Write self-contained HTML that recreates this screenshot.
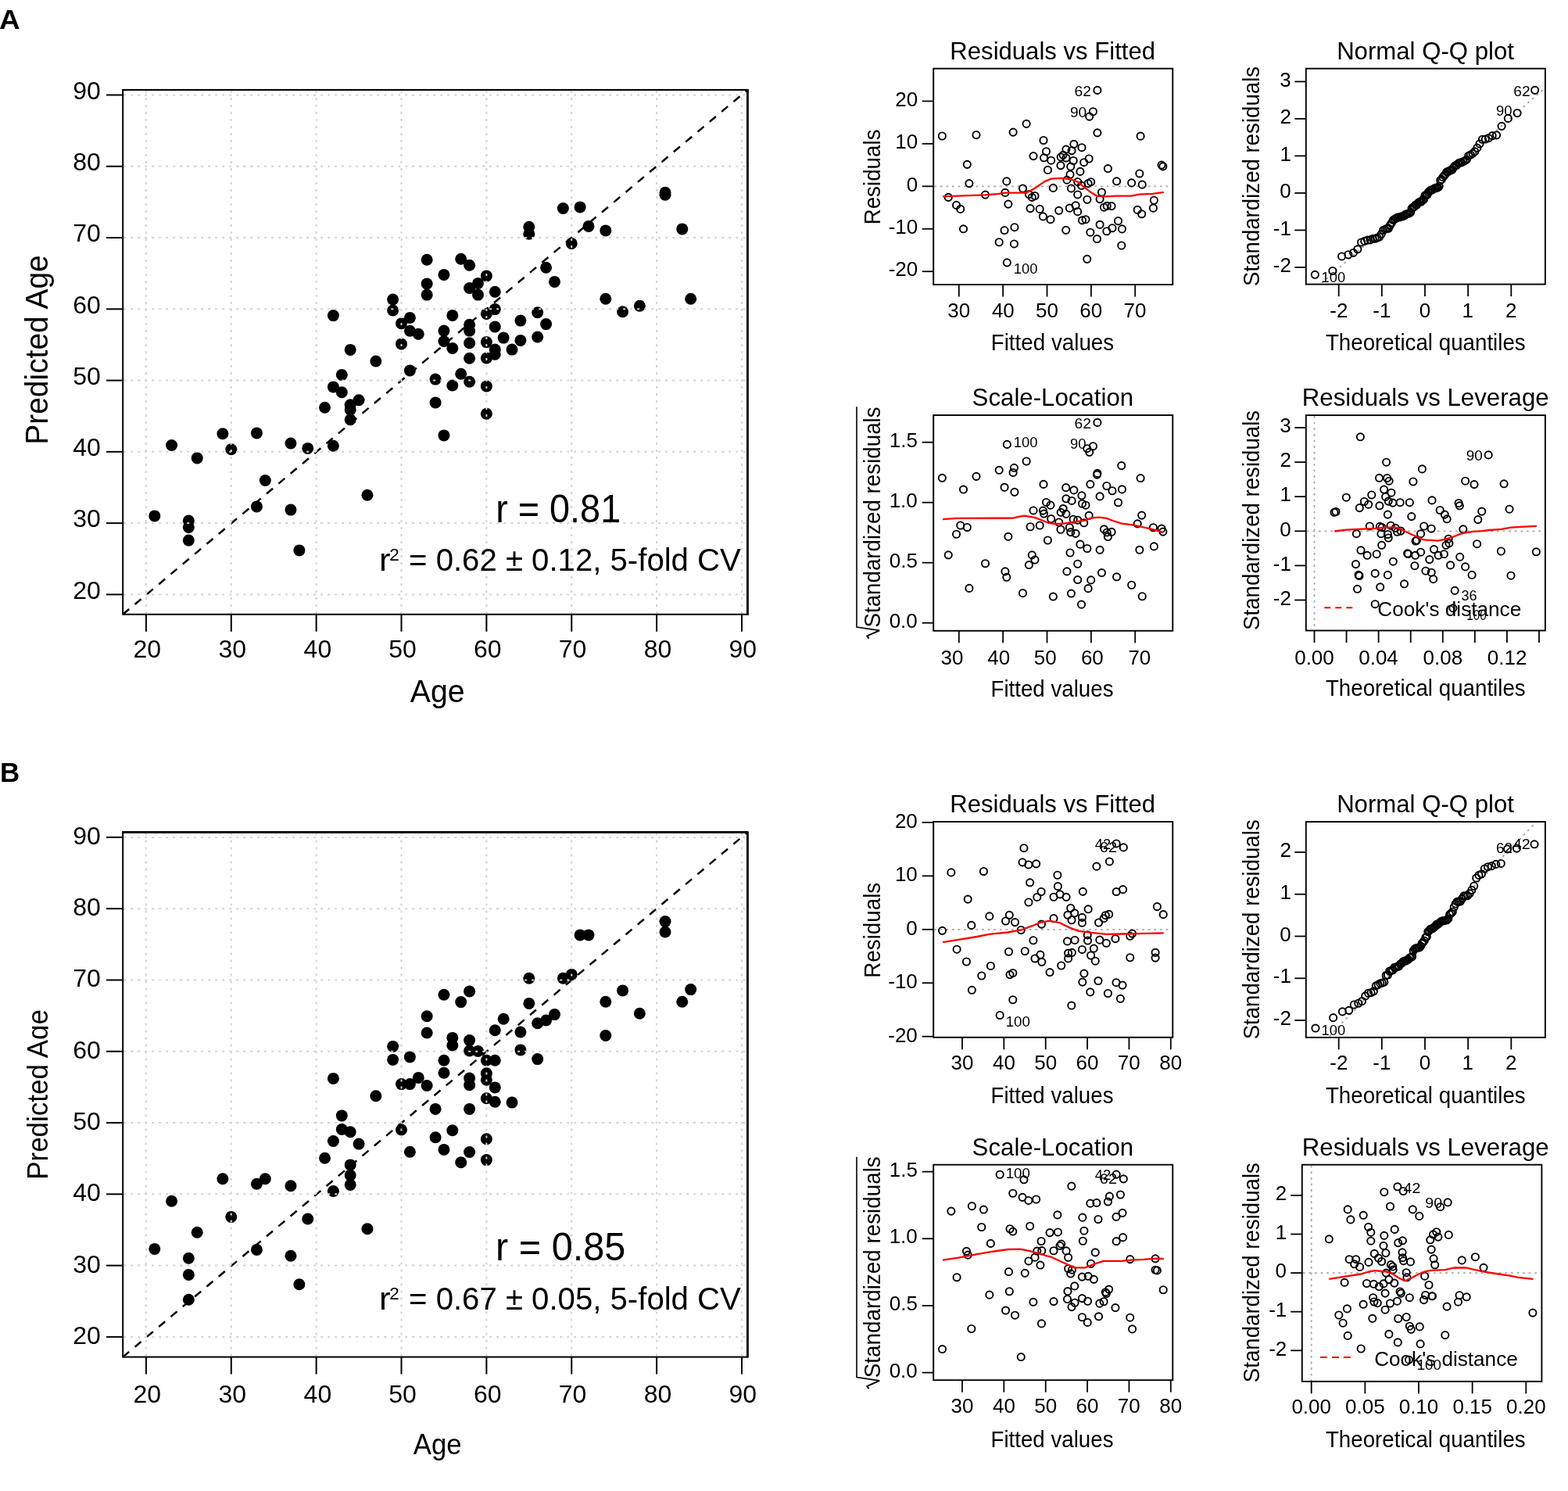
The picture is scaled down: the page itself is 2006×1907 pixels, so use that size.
<!DOCTYPE html>
<html><head><meta charset="utf-8"><title>Figure</title>
<style>html,body{margin:0;padding:0;background:#fff;}svg{display:block;}</style>
</head><body>
<svg xmlns="http://www.w3.org/2000/svg" width="2006" height="1907" viewBox="0 0 2006 1907" font-family="'Liberation Sans', Arial, Helvetica, sans-serif">
<rect x="0" y="0" width="2006" height="1907" fill="#fff"/>
<circle cx="197.79" cy="659.9" r="7.5" fill="#000"/>
<circle cx="219.56" cy="569.5" r="7.5" fill="#000"/>
<circle cx="241.34" cy="666" r="7.5" fill="#000"/>
<circle cx="241.34" cy="674.4" r="7.5" fill="#000"/>
<circle cx="241.34" cy="691.1" r="7.5" fill="#000"/>
<circle cx="252.22" cy="585.9" r="7.5" fill="#000"/>
<circle cx="284.88" cy="554.8" r="7.5" fill="#000"/>
<circle cx="295.77" cy="574.8" r="7.5" fill="#000"/>
<circle cx="328.43" cy="553.9" r="7.5" fill="#000"/>
<circle cx="328.43" cy="647.9" r="7.5" fill="#000"/>
<circle cx="339.32" cy="614.5" r="7.5" fill="#000"/>
<circle cx="371.98" cy="567" r="7.5" fill="#000"/>
<circle cx="371.98" cy="652.1" r="7.5" fill="#000"/>
<circle cx="382.87" cy="703.9" r="7.5" fill="#000"/>
<circle cx="393.75" cy="573.4" r="7.5" fill="#000"/>
<circle cx="415.53" cy="521.3" r="7.5" fill="#000"/>
<circle cx="426.41" cy="403.6" r="7.5" fill="#000"/>
<circle cx="426.41" cy="494.9" r="7.5" fill="#000"/>
<circle cx="426.41" cy="570.3" r="7.5" fill="#000"/>
<circle cx="437.3" cy="479.4" r="7.5" fill="#000"/>
<circle cx="437.3" cy="501.7" r="7.5" fill="#000"/>
<circle cx="448.19" cy="447.4" r="7.5" fill="#000"/>
<circle cx="448.19" cy="517.7" r="7.5" fill="#000"/>
<circle cx="448.19" cy="524.1" r="7.5" fill="#000"/>
<circle cx="448.19" cy="536.8" r="7.5" fill="#000"/>
<circle cx="459.08" cy="511.8" r="7.5" fill="#000"/>
<circle cx="469.96" cy="633.2" r="7.5" fill="#000"/>
<circle cx="480.85" cy="462" r="7.5" fill="#000"/>
<circle cx="502.62" cy="383" r="7.5" fill="#000"/>
<circle cx="502.62" cy="397" r="7.5" fill="#000"/>
<circle cx="513.51" cy="413.7" r="7.5" fill="#000"/>
<circle cx="513.51" cy="439.9" r="7.5" fill="#000"/>
<circle cx="524.4" cy="406.4" r="7.5" fill="#000"/>
<circle cx="524.4" cy="423.2" r="7.5" fill="#000"/>
<circle cx="524.4" cy="473.9" r="7.5" fill="#000"/>
<circle cx="535.28" cy="427.3" r="7.5" fill="#000"/>
<circle cx="546.17" cy="332.3" r="7.5" fill="#000"/>
<circle cx="546.17" cy="362.9" r="7.5" fill="#000"/>
<circle cx="546.17" cy="377.1" r="7.5" fill="#000"/>
<circle cx="557.06" cy="485.1" r="7.5" fill="#000"/>
<circle cx="557.06" cy="514.9" r="7.5" fill="#000"/>
<circle cx="567.95" cy="351.4" r="7.5" fill="#000"/>
<circle cx="567.95" cy="423.1" r="7.5" fill="#000"/>
<circle cx="567.95" cy="436.5" r="7.5" fill="#000"/>
<circle cx="567.95" cy="556.9" r="7.5" fill="#000"/>
<circle cx="578.83" cy="403.4" r="7.5" fill="#000"/>
<circle cx="578.83" cy="445.4" r="7.5" fill="#000"/>
<circle cx="578.83" cy="493" r="7.5" fill="#000"/>
<circle cx="589.72" cy="331.2" r="7.5" fill="#000"/>
<circle cx="589.72" cy="478.2" r="7.5" fill="#000"/>
<circle cx="600.61" cy="339.2" r="7.5" fill="#000"/>
<circle cx="600.61" cy="368.5" r="7.5" fill="#000"/>
<circle cx="600.61" cy="415.3" r="7.5" fill="#000"/>
<circle cx="600.61" cy="423.1" r="7.5" fill="#000"/>
<circle cx="600.61" cy="438.8" r="7.5" fill="#000"/>
<circle cx="600.61" cy="458.3" r="7.5" fill="#000"/>
<circle cx="600.61" cy="488.2" r="7.5" fill="#000"/>
<circle cx="611.49" cy="362.4" r="7.5" fill="#000"/>
<circle cx="611.49" cy="377.1" r="7.5" fill="#000"/>
<circle cx="622.38" cy="352.9" r="7.5" fill="#000"/>
<circle cx="622.38" cy="401.4" r="7.5" fill="#000"/>
<circle cx="622.38" cy="437.6" r="7.5" fill="#000"/>
<circle cx="622.38" cy="458" r="7.5" fill="#000"/>
<circle cx="622.38" cy="493.9" r="7.5" fill="#000"/>
<circle cx="622.38" cy="529.3" r="7.5" fill="#000"/>
<circle cx="633.27" cy="373.3" r="7.5" fill="#000"/>
<circle cx="633.27" cy="395.6" r="7.5" fill="#000"/>
<circle cx="633.27" cy="417.9" r="7.5" fill="#000"/>
<circle cx="633.27" cy="447.1" r="7.5" fill="#000"/>
<circle cx="633.27" cy="453.2" r="7.5" fill="#000"/>
<circle cx="644.15" cy="432.1" r="7.5" fill="#000"/>
<circle cx="655.04" cy="447.1" r="7.5" fill="#000"/>
<circle cx="665.93" cy="410.1" r="7.5" fill="#000"/>
<circle cx="665.93" cy="435.4" r="7.5" fill="#000"/>
<circle cx="676.82" cy="290.3" r="7.5" fill="#000"/>
<circle cx="676.82" cy="299.2" r="7.5" fill="#000"/>
<circle cx="687.7" cy="399.7" r="7.5" fill="#000"/>
<circle cx="687.7" cy="431" r="7.5" fill="#000"/>
<circle cx="698.59" cy="342.3" r="7.5" fill="#000"/>
<circle cx="698.59" cy="414.6" r="7.5" fill="#000"/>
<circle cx="709.48" cy="360.4" r="7.5" fill="#000"/>
<circle cx="720.36" cy="266.5" r="7.5" fill="#000"/>
<circle cx="731.25" cy="311.4" r="7.5" fill="#000"/>
<circle cx="742.14" cy="264.9" r="7.5" fill="#000"/>
<circle cx="753.02" cy="289.4" r="7.5" fill="#000"/>
<circle cx="774.8" cy="294.9" r="7.5" fill="#000"/>
<circle cx="774.8" cy="382.3" r="7.5" fill="#000"/>
<circle cx="796.57" cy="398.8" r="7.5" fill="#000"/>
<circle cx="818.35" cy="391.2" r="7.5" fill="#000"/>
<circle cx="851.01" cy="246.3" r="7.5" fill="#000"/>
<circle cx="851.01" cy="249.3" r="7.5" fill="#000"/>
<circle cx="872.78" cy="292.9" r="7.5" fill="#000"/>
<circle cx="883.67" cy="382.3" r="7.5" fill="#000"/>
<line x1="157.2" y1="785.8" x2="955.3" y2="115.9" stroke="#000" stroke-width="2.5" stroke-dasharray="10.5,9.5" stroke-linecap="butt"/>
<line x1="186.9" y1="115.9" x2="186.9" y2="784.8" stroke="#d3d3d3" stroke-width="2" stroke-dasharray="3,6" stroke-linecap="butt"/>
<line x1="158.2" y1="760.39" x2="955.3" y2="760.39" stroke="#d3d3d3" stroke-width="2" stroke-dasharray="3,6" stroke-linecap="butt"/>
<line x1="295.77" y1="115.9" x2="295.77" y2="784.8" stroke="#d3d3d3" stroke-width="2" stroke-dasharray="3,6" stroke-linecap="butt"/>
<line x1="158.2" y1="669.12" x2="955.3" y2="669.12" stroke="#d3d3d3" stroke-width="2" stroke-dasharray="3,6" stroke-linecap="butt"/>
<line x1="404.64" y1="115.9" x2="404.64" y2="784.8" stroke="#d3d3d3" stroke-width="2" stroke-dasharray="3,6" stroke-linecap="butt"/>
<line x1="158.2" y1="577.85" x2="955.3" y2="577.85" stroke="#d3d3d3" stroke-width="2" stroke-dasharray="3,6" stroke-linecap="butt"/>
<line x1="513.51" y1="115.9" x2="513.51" y2="784.8" stroke="#d3d3d3" stroke-width="2" stroke-dasharray="3,6" stroke-linecap="butt"/>
<line x1="158.2" y1="486.58" x2="955.3" y2="486.58" stroke="#d3d3d3" stroke-width="2" stroke-dasharray="3,6" stroke-linecap="butt"/>
<line x1="622.38" y1="115.9" x2="622.38" y2="784.8" stroke="#d3d3d3" stroke-width="2" stroke-dasharray="3,6" stroke-linecap="butt"/>
<line x1="158.2" y1="395.31" x2="955.3" y2="395.31" stroke="#d3d3d3" stroke-width="2" stroke-dasharray="3,6" stroke-linecap="butt"/>
<line x1="731.25" y1="115.9" x2="731.25" y2="784.8" stroke="#d3d3d3" stroke-width="2" stroke-dasharray="3,6" stroke-linecap="butt"/>
<line x1="158.2" y1="304.04" x2="955.3" y2="304.04" stroke="#d3d3d3" stroke-width="2" stroke-dasharray="3,6" stroke-linecap="butt"/>
<line x1="840.12" y1="115.9" x2="840.12" y2="784.8" stroke="#d3d3d3" stroke-width="2" stroke-dasharray="3,6" stroke-linecap="butt"/>
<line x1="158.2" y1="212.77" x2="955.3" y2="212.77" stroke="#d3d3d3" stroke-width="2" stroke-dasharray="3,6" stroke-linecap="butt"/>
<line x1="948.99" y1="115.9" x2="948.99" y2="784.8" stroke="#d3d3d3" stroke-width="2" stroke-dasharray="3,6" stroke-linecap="butt"/>
<line x1="158.2" y1="121.5" x2="955.3" y2="121.5" stroke="#d3d3d3" stroke-width="2" stroke-dasharray="3,6" stroke-linecap="butt"/>
<rect x="157.2" y="114.9" width="799.1" height="670.9" fill="none" stroke="#000" stroke-width="2"/>
<line x1="156.2" y1="114.9" x2="956.3" y2="114.9" stroke="#000" stroke-width="2" stroke-linecap="butt"/>
<line x1="956.4" y1="113.9" x2="956.4" y2="786.8" stroke="#000" stroke-width="2.8" stroke-linecap="butt"/>
<line x1="136" y1="760.39" x2="157.2" y2="760.39" stroke="#000" stroke-width="2" stroke-linecap="butt"/>
<line x1="186.9" y1="785.8" x2="186.9" y2="807.8" stroke="#000" stroke-width="2" stroke-linecap="butt"/>
<text x="93.16" y="765.59" font-size="32" textLength="35.59" lengthAdjust="spacingAndGlyphs">20</text>
<text x="170.42" y="841" font-size="32" textLength="35.59" lengthAdjust="spacingAndGlyphs">20</text>
<line x1="136" y1="669.12" x2="157.2" y2="669.12" stroke="#000" stroke-width="2" stroke-linecap="butt"/>
<line x1="295.77" y1="785.8" x2="295.77" y2="807.8" stroke="#000" stroke-width="2" stroke-linecap="butt"/>
<text x="93.16" y="674.32" font-size="32" textLength="35.59" lengthAdjust="spacingAndGlyphs">30</text>
<text x="279.49" y="841" font-size="32" textLength="35.59" lengthAdjust="spacingAndGlyphs">30</text>
<line x1="136" y1="577.85" x2="157.2" y2="577.85" stroke="#000" stroke-width="2" stroke-linecap="butt"/>
<line x1="404.64" y1="785.8" x2="404.64" y2="807.8" stroke="#000" stroke-width="2" stroke-linecap="butt"/>
<text x="93.16" y="583.05" font-size="32" textLength="35.59" lengthAdjust="spacingAndGlyphs">40</text>
<text x="388.6" y="841" font-size="32" textLength="35.59" lengthAdjust="spacingAndGlyphs">40</text>
<line x1="136" y1="486.58" x2="157.2" y2="486.58" stroke="#000" stroke-width="2" stroke-linecap="butt"/>
<line x1="513.51" y1="785.8" x2="513.51" y2="807.8" stroke="#000" stroke-width="2" stroke-linecap="butt"/>
<text x="93.16" y="491.78" font-size="32" textLength="35.59" lengthAdjust="spacingAndGlyphs">50</text>
<text x="497.2" y="841" font-size="32" textLength="35.59" lengthAdjust="spacingAndGlyphs">50</text>
<line x1="136" y1="395.31" x2="157.2" y2="395.31" stroke="#000" stroke-width="2" stroke-linecap="butt"/>
<line x1="622.38" y1="785.8" x2="622.38" y2="807.8" stroke="#000" stroke-width="2" stroke-linecap="butt"/>
<text x="93.16" y="400.51" font-size="32" textLength="35.59" lengthAdjust="spacingAndGlyphs">60</text>
<text x="605.9" y="841" font-size="32" textLength="35.59" lengthAdjust="spacingAndGlyphs">60</text>
<line x1="136" y1="304.04" x2="157.2" y2="304.04" stroke="#000" stroke-width="2" stroke-linecap="butt"/>
<line x1="731.25" y1="785.8" x2="731.25" y2="807.8" stroke="#000" stroke-width="2" stroke-linecap="butt"/>
<text x="93.16" y="309.24" font-size="32" textLength="35.59" lengthAdjust="spacingAndGlyphs">70</text>
<text x="714.76" y="841" font-size="32" textLength="35.59" lengthAdjust="spacingAndGlyphs">70</text>
<line x1="136" y1="212.77" x2="157.2" y2="212.77" stroke="#000" stroke-width="2" stroke-linecap="butt"/>
<line x1="840.12" y1="785.8" x2="840.12" y2="807.8" stroke="#000" stroke-width="2" stroke-linecap="butt"/>
<text x="93.16" y="217.97" font-size="32" textLength="35.59" lengthAdjust="spacingAndGlyphs">80</text>
<text x="823.75" y="841" font-size="32" textLength="35.59" lengthAdjust="spacingAndGlyphs">80</text>
<line x1="136" y1="121.5" x2="157.2" y2="121.5" stroke="#000" stroke-width="2" stroke-linecap="butt"/>
<line x1="948.99" y1="785.8" x2="948.99" y2="807.8" stroke="#000" stroke-width="2" stroke-linecap="butt"/>
<text x="93.16" y="126.7" font-size="32" textLength="35.59" lengthAdjust="spacingAndGlyphs">90</text>
<text x="932.57" y="841" font-size="32" textLength="35.59" lengthAdjust="spacingAndGlyphs">90</text>
<text x="524.82" y="897.9" font-size="40.5" textLength="69.72" lengthAdjust="spacingAndGlyphs">Age</text>
<text transform="translate(61.1,565.6) rotate(-90)" x="-3.17" y="0" font-size="41" textLength="242.48" lengthAdjust="spacingAndGlyphs">Predicted Age</text>
<text x="-0.92" y="37.1" font-size="34.5" font-weight="bold" textLength="26.7" lengthAdjust="spacingAndGlyphs">A</text>
<text x="634.19" y="667.9" font-size="50.5" textLength="159.99" lengthAdjust="spacingAndGlyphs">r = 0.81</text>
<text x="484.98" y="729.5" font-size="40.5" textLength="14.65" lengthAdjust="spacingAndGlyphs">r</text>
<text x="498.36" y="716.5" font-size="22.6" textLength="12.57" lengthAdjust="spacingAndGlyphs">2</text>
<text x="523.04" y="729.5" font-size="41" textLength="424.84" lengthAdjust="spacingAndGlyphs">= 0.62 ± 0.12, 5-fold CV</text>
<line x1="1195.2" y1="238.3" x2="1499.3" y2="238.3" stroke="#a8a8a8" stroke-width="1.8" stroke-dasharray="2.8,4.8" stroke-linecap="butt"/>
<circle cx="1232.51" cy="292.81" r="4.6" fill="none" stroke="#000" stroke-width="1.9"/>
<circle cx="1288.33" cy="335.85" r="4.6" fill="none" stroke="#000" stroke-width="1.9"/>
<circle cx="1228.75" cy="267.39" r="4.6" fill="none" stroke="#000" stroke-width="1.9"/>
<circle cx="1223.56" cy="262.38" r="4.6" fill="none" stroke="#000" stroke-width="1.9"/>
<circle cx="1213.25" cy="252.41" r="4.6" fill="none" stroke="#000" stroke-width="1.9"/>
<circle cx="1278.2" cy="309.73" r="4.6" fill="none" stroke="#000" stroke-width="1.9"/>
<circle cx="1297.4" cy="311.95" r="4.6" fill="none" stroke="#000" stroke-width="1.9"/>
<circle cx="1285.05" cy="294.57" r="4.6" fill="none" stroke="#000" stroke-width="1.9"/>
<circle cx="1297.96" cy="290.7" r="4.6" fill="none" stroke="#000" stroke-width="1.9"/>
<circle cx="1239.92" cy="234.62" r="4.6" fill="none" stroke="#000" stroke-width="1.9"/>
<circle cx="1260.54" cy="249.11" r="4.6" fill="none" stroke="#000" stroke-width="1.9"/>
<circle cx="1289.87" cy="261.11" r="4.6" fill="none" stroke="#000" stroke-width="1.9"/>
<circle cx="1237.33" cy="210.34" r="4.6" fill="none" stroke="#000" stroke-width="1.9"/>
<circle cx="1205.35" cy="173.99" r="4.6" fill="none" stroke="#000" stroke-width="1.9"/>
<circle cx="1285.92" cy="246.4" r="4.6" fill="none" stroke="#000" stroke-width="1.9"/>
<circle cx="1318.08" cy="266.59" r="4.6" fill="none" stroke="#000" stroke-width="1.9"/>
<circle cx="1390.75" cy="331.36" r="4.6" fill="none" stroke="#000" stroke-width="1.9"/>
<circle cx="1334.38" cy="276.9" r="4.6" fill="none" stroke="#000" stroke-width="1.9"/>
<circle cx="1287.83" cy="231.91" r="4.6" fill="none" stroke="#000" stroke-width="1.9"/>
<circle cx="1343.95" cy="280.7" r="4.6" fill="none" stroke="#000" stroke-width="1.9"/>
<circle cx="1330.18" cy="267.39" r="4.6" fill="none" stroke="#000" stroke-width="1.9"/>
<circle cx="1363.71" cy="294.34" r="4.6" fill="none" stroke="#000" stroke-width="1.9"/>
<circle cx="1320.31" cy="252.4" r="4.6" fill="none" stroke="#000" stroke-width="1.9"/>
<circle cx="1316.36" cy="248.59" r="4.6" fill="none" stroke="#000" stroke-width="1.9"/>
<circle cx="1308.51" cy="241.01" r="4.6" fill="none" stroke="#000" stroke-width="1.9"/>
<circle cx="1323.95" cy="250.48" r="4.6" fill="none" stroke="#000" stroke-width="1.9"/>
<circle cx="1249" cy="172.61" r="4.6" fill="none" stroke="#000" stroke-width="1.9"/>
<circle cx="1354.7" cy="269.3" r="4.6" fill="none" stroke="#000" stroke-width="1.9"/>
<circle cx="1403.47" cy="305.54" r="4.6" fill="none" stroke="#000" stroke-width="1.9"/>
<circle cx="1394.83" cy="297.19" r="4.6" fill="none" stroke="#000" stroke-width="1.9"/>
<circle cx="1384.52" cy="281.78" r="4.6" fill="none" stroke="#000" stroke-width="1.9"/>
<circle cx="1368.34" cy="266.15" r="4.6" fill="none" stroke="#000" stroke-width="1.9"/>
<circle cx="1389.02" cy="280.69" r="4.6" fill="none" stroke="#000" stroke-width="1.9"/>
<circle cx="1378.65" cy="270.67" r="4.6" fill="none" stroke="#000" stroke-width="1.9"/>
<circle cx="1347.35" cy="240.42" r="4.6" fill="none" stroke="#000" stroke-width="1.9"/>
<circle cx="1376.12" cy="262.78" r="4.6" fill="none" stroke="#000" stroke-width="1.9"/>
<circle cx="1434.77" cy="314.01" r="4.6" fill="none" stroke="#000" stroke-width="1.9"/>
<circle cx="1415.88" cy="295.75" r="4.6" fill="none" stroke="#000" stroke-width="1.9"/>
<circle cx="1407.11" cy="287.28" r="4.6" fill="none" stroke="#000" stroke-width="1.9"/>
<circle cx="1340.43" cy="217.4" r="4.6" fill="none" stroke="#000" stroke-width="1.9"/>
<circle cx="1322.04" cy="199.62" r="4.6" fill="none" stroke="#000" stroke-width="1.9"/>
<circle cx="1422.98" cy="291.72" r="4.6" fill="none" stroke="#000" stroke-width="1.9"/>
<circle cx="1378.71" cy="248.95" r="4.6" fill="none" stroke="#000" stroke-width="1.9"/>
<circle cx="1370.44" cy="240.95" r="4.6" fill="none" stroke="#000" stroke-width="1.9"/>
<circle cx="1296.1" cy="169.12" r="4.6" fill="none" stroke="#000" stroke-width="1.9"/>
<circle cx="1390.88" cy="255.25" r="4.6" fill="none" stroke="#000" stroke-width="1.9"/>
<circle cx="1364.94" cy="230.2" r="4.6" fill="none" stroke="#000" stroke-width="1.9"/>
<circle cx="1335.56" cy="201.8" r="4.6" fill="none" stroke="#000" stroke-width="1.9"/>
<circle cx="1435.45" cy="292.88" r="4.6" fill="none" stroke="#000" stroke-width="1.9"/>
<circle cx="1344.69" cy="205.18" r="4.6" fill="none" stroke="#000" stroke-width="1.9"/>
<circle cx="1430.51" cy="282.66" r="4.6" fill="none" stroke="#000" stroke-width="1.9"/>
<circle cx="1412.42" cy="265.18" r="4.6" fill="none" stroke="#000" stroke-width="1.9"/>
<circle cx="1383.53" cy="237.26" r="4.6" fill="none" stroke="#000" stroke-width="1.9"/>
<circle cx="1378.71" cy="232.61" r="4.6" fill="none" stroke="#000" stroke-width="1.9"/>
<circle cx="1369.02" cy="223.24" r="4.6" fill="none" stroke="#000" stroke-width="1.9"/>
<circle cx="1356.98" cy="211.61" r="4.6" fill="none" stroke="#000" stroke-width="1.9"/>
<circle cx="1338.52" cy="193.77" r="4.6" fill="none" stroke="#000" stroke-width="1.9"/>
<circle cx="1416.19" cy="263.38" r="4.6" fill="none" stroke="#000" stroke-width="1.9"/>
<circle cx="1407.11" cy="254.61" r="4.6" fill="none" stroke="#000" stroke-width="1.9"/>
<circle cx="1422.05" cy="263.6" r="4.6" fill="none" stroke="#000" stroke-width="1.9"/>
<circle cx="1392.11" cy="234.67" r="4.6" fill="none" stroke="#000" stroke-width="1.9"/>
<circle cx="1369.76" cy="213.07" r="4.6" fill="none" stroke="#000" stroke-width="1.9"/>
<circle cx="1357.17" cy="200.9" r="4.6" fill="none" stroke="#000" stroke-width="1.9"/>
<circle cx="1335" cy="179.48" r="4.6" fill="none" stroke="#000" stroke-width="1.9"/>
<circle cx="1313.14" cy="158.36" r="4.6" fill="none" stroke="#000" stroke-width="1.9"/>
<circle cx="1409.46" cy="245.99" r="4.6" fill="none" stroke="#000" stroke-width="1.9"/>
<circle cx="1395.69" cy="232.68" r="4.6" fill="none" stroke="#000" stroke-width="1.9"/>
<circle cx="1381.92" cy="219.38" r="4.6" fill="none" stroke="#000" stroke-width="1.9"/>
<circle cx="1363.89" cy="201.96" r="4.6" fill="none" stroke="#000" stroke-width="1.9"/>
<circle cx="1360.13" cy="198.32" r="4.6" fill="none" stroke="#000" stroke-width="1.9"/>
<circle cx="1373.16" cy="205.46" r="4.6" fill="none" stroke="#000" stroke-width="1.9"/>
<circle cx="1363.89" cy="191.07" r="4.6" fill="none" stroke="#000" stroke-width="1.9"/>
<circle cx="1386.74" cy="207.7" r="4.6" fill="none" stroke="#000" stroke-width="1.9"/>
<circle cx="1371.12" cy="192.6" r="4.6" fill="none" stroke="#000" stroke-width="1.9"/>
<circle cx="1460.7" cy="273.72" r="4.6" fill="none" stroke="#000" stroke-width="1.9"/>
<circle cx="1455.21" cy="268.41" r="4.6" fill="none" stroke="#000" stroke-width="1.9"/>
<circle cx="1393.16" cy="203.01" r="4.6" fill="none" stroke="#000" stroke-width="1.9"/>
<circle cx="1373.84" cy="184.34" r="4.6" fill="none" stroke="#000" stroke-width="1.9"/>
<circle cx="1428.6" cy="231.81" r="4.6" fill="none" stroke="#000" stroke-width="1.9"/>
<circle cx="1383.96" cy="188.68" r="4.6" fill="none" stroke="#000" stroke-width="1.9"/>
<circle cx="1417.42" cy="215.57" r="4.6" fill="none" stroke="#000" stroke-width="1.9"/>
<circle cx="1475.4" cy="266.14" r="4.6" fill="none" stroke="#000" stroke-width="1.9"/>
<circle cx="1447.68" cy="233.91" r="4.6" fill="none" stroke="#000" stroke-width="1.9"/>
<circle cx="1476.38" cy="256.21" r="4.6" fill="none" stroke="#000" stroke-width="1.9"/>
<circle cx="1461.26" cy="236.14" r="4.6" fill="none" stroke="#000" stroke-width="1.9"/>
<circle cx="1457.86" cy="221.97" r="4.6" fill="none" stroke="#000" stroke-width="1.9"/>
<circle cx="1403.9" cy="169.83" r="4.6" fill="none" stroke="#000" stroke-width="1.9"/>
<circle cx="1393.72" cy="149.1" r="4.6" fill="none" stroke="#000" stroke-width="1.9"/>
<circle cx="1398.41" cy="142.74" r="4.6" fill="none" stroke="#000" stroke-width="1.9"/>
<circle cx="1487.87" cy="212.85" r="4.6" fill="none" stroke="#000" stroke-width="1.9"/>
<circle cx="1486.02" cy="211.06" r="4.6" fill="none" stroke="#000" stroke-width="1.9"/>
<circle cx="1459.1" cy="174.16" r="4.6" fill="none" stroke="#000" stroke-width="1.9"/>
<circle cx="1403.9" cy="115.38" r="4.6" fill="none" stroke="#000" stroke-width="1.9"/>
<polyline fill="none" points="1206,251.3 1237.4,250.2 1260.2,249.4 1278.3,247.8 1285.3,246.6 1312.8,246.6 1320.7,242.7 1327,238.8 1336.4,232.1 1345,228.6 1356.8,227.8 1368.6,229 1378.8,232.5 1387.4,239.6 1395.3,245.8 1403.1,250.6 1413.3,251.3 1428.3,250.6 1447.1,250.6 1457.3,248.6 1474.6,247.8 1488.8,245.8" stroke="#ff0000" stroke-width="2.3" stroke-linejoin="round"/>
<rect x="1194.2" y="87.7" width="306.1" height="276.3" fill="none" stroke="#000" stroke-width="1.9"/>
<line x1="1179.7" y1="129.4" x2="1194.2" y2="129.4" stroke="#000" stroke-width="1.8" stroke-linecap="butt"/>
<text x="1145.3" y="135.6" font-size="26" textLength="28.92" lengthAdjust="spacingAndGlyphs">20</text>
<line x1="1179.7" y1="183.85" x2="1194.2" y2="183.85" stroke="#000" stroke-width="1.8" stroke-linecap="butt"/>
<text x="1145.3" y="190.05" font-size="26" textLength="28.92" lengthAdjust="spacingAndGlyphs">10</text>
<line x1="1179.7" y1="238.3" x2="1194.2" y2="238.3" stroke="#000" stroke-width="1.8" stroke-linecap="butt"/>
<text x="1159.76" y="244.5" font-size="26" textLength="14.46" lengthAdjust="spacingAndGlyphs">0</text>
<line x1="1179.7" y1="292.75" x2="1194.2" y2="292.75" stroke="#000" stroke-width="1.8" stroke-linecap="butt"/>
<text x="1136.64" y="298.95" font-size="26" textLength="37.58" lengthAdjust="spacingAndGlyphs">-10</text>
<line x1="1179.7" y1="347.2" x2="1194.2" y2="347.2" stroke="#000" stroke-width="1.8" stroke-linecap="butt"/>
<text x="1136.64" y="353.4" font-size="26" textLength="37.58" lengthAdjust="spacingAndGlyphs">-20</text>
<line x1="1226.82" y1="364" x2="1226.82" y2="379.5" stroke="#000" stroke-width="1.8" stroke-linecap="butt"/>
<text x="1212.37" y="405.6" font-size="26" textLength="28.92" lengthAdjust="spacingAndGlyphs">30</text>
<line x1="1283.17" y1="364" x2="1283.17" y2="379.5" stroke="#000" stroke-width="1.8" stroke-linecap="butt"/>
<text x="1268.92" y="405.6" font-size="26" textLength="28.92" lengthAdjust="spacingAndGlyphs">40</text>
<line x1="1339.52" y1="364" x2="1339.52" y2="379.5" stroke="#000" stroke-width="1.8" stroke-linecap="butt"/>
<text x="1325.05" y="405.6" font-size="26" textLength="28.92" lengthAdjust="spacingAndGlyphs">50</text>
<line x1="1395.87" y1="364" x2="1395.87" y2="379.5" stroke="#000" stroke-width="1.8" stroke-linecap="butt"/>
<text x="1381.26" y="405.6" font-size="26" textLength="28.92" lengthAdjust="spacingAndGlyphs">60</text>
<line x1="1452.22" y1="364" x2="1452.22" y2="379.5" stroke="#000" stroke-width="1.8" stroke-linecap="butt"/>
<text x="1437.6" y="405.6" font-size="26" textLength="28.92" lengthAdjust="spacingAndGlyphs">70</text>
<text x="1215.35" y="75.8" font-size="31.5" textLength="262.65" lengthAdjust="spacingAndGlyphs">Residuals vs Fitted</text>
<text x="1267.72" y="447.8" font-size="28.8" textLength="157.48" lengthAdjust="spacingAndGlyphs">Fitted values</text>
<text transform="translate(1125.8,285.1) rotate(-90)" x="-2.28" y="0" font-size="28.8" textLength="121.88" lengthAdjust="spacingAndGlyphs">Residuals</text>
<text x="1374.42" y="123.3" font-size="19" textLength="21.45" lengthAdjust="spacingAndGlyphs">62</text>
<text x="1368.9" y="150.1" font-size="19" textLength="21.35" lengthAdjust="spacingAndGlyphs">90</text>
<text x="1296.8" y="350" font-size="19" textLength="30.72" lengthAdjust="spacingAndGlyphs">100</text>
<clipPath id="qc275"><rect x="1670.8" y="87.7" width="306.10000000000014" height="275.90000000000003"/></clipPath>
<g clip-path="url(#qc275)">
<line x1="1679.61" y1="371.9" x2="1974.66" y2="114.15" stroke="#a0a0a0" stroke-width="1.8" stroke-dasharray="2.8,4.8" stroke-linecap="butt"/>
</g>
<circle cx="1682.33" cy="351.31" r="4.6" fill="none" stroke="#000" stroke-width="1.9"/>
<circle cx="1704.91" cy="346.51" r="4.6" fill="none" stroke="#000" stroke-width="1.9"/>
<circle cx="1716.63" cy="327.93" r="4.6" fill="none" stroke="#000" stroke-width="1.9"/>
<circle cx="1724.9" cy="325.73" r="4.6" fill="none" stroke="#000" stroke-width="1.9"/>
<circle cx="1731.41" cy="323.35" r="4.6" fill="none" stroke="#000" stroke-width="1.9"/>
<circle cx="1736.85" cy="318.87" r="4.6" fill="none" stroke="#000" stroke-width="1.9"/>
<circle cx="1741.57" cy="309.93" r="4.6" fill="none" stroke="#000" stroke-width="1.9"/>
<circle cx="1745.75" cy="308.39" r="4.6" fill="none" stroke="#000" stroke-width="1.9"/>
<circle cx="1749.53" cy="307.13" r="4.6" fill="none" stroke="#000" stroke-width="1.9"/>
<circle cx="1752.99" cy="306.89" r="4.6" fill="none" stroke="#000" stroke-width="1.9"/>
<circle cx="1756.2" cy="305.32" r="4.6" fill="none" stroke="#000" stroke-width="1.9"/>
<circle cx="1759.2" cy="305.24" r="4.6" fill="none" stroke="#000" stroke-width="1.9"/>
<circle cx="1762.02" cy="304.08" r="4.6" fill="none" stroke="#000" stroke-width="1.9"/>
<circle cx="1764.68" cy="302.99" r="4.6" fill="none" stroke="#000" stroke-width="1.9"/>
<circle cx="1767.22" cy="299.33" r="4.6" fill="none" stroke="#000" stroke-width="1.9"/>
<circle cx="1769.65" cy="294.39" r="4.6" fill="none" stroke="#000" stroke-width="1.9"/>
<circle cx="1771.97" cy="293.44" r="4.6" fill="none" stroke="#000" stroke-width="1.9"/>
<circle cx="1774.21" cy="292.28" r="4.6" fill="none" stroke="#000" stroke-width="1.9"/>
<circle cx="1776.37" cy="292.27" r="4.6" fill="none" stroke="#000" stroke-width="1.9"/>
<circle cx="1778.46" cy="288.21" r="4.6" fill="none" stroke="#000" stroke-width="1.9"/>
<circle cx="1780.49" cy="284.82" r="4.6" fill="none" stroke="#000" stroke-width="1.9"/>
<circle cx="1782.47" cy="281.54" r="4.6" fill="none" stroke="#000" stroke-width="1.9"/>
<circle cx="1784.39" cy="280.08" r="4.6" fill="none" stroke="#000" stroke-width="1.9"/>
<circle cx="1786.27" cy="279.13" r="4.6" fill="none" stroke="#000" stroke-width="1.9"/>
<circle cx="1788.1" cy="278.04" r="4.6" fill="none" stroke="#000" stroke-width="1.9"/>
<circle cx="1789.9" cy="278.03" r="4.6" fill="none" stroke="#000" stroke-width="1.9"/>
<circle cx="1791.66" cy="277.18" r="4.6" fill="none" stroke="#000" stroke-width="1.9"/>
<circle cx="1793.39" cy="276.71" r="4.6" fill="none" stroke="#000" stroke-width="1.9"/>
<circle cx="1795.1" cy="276.7" r="4.6" fill="none" stroke="#000" stroke-width="1.9"/>
<circle cx="1796.77" cy="275.68" r="4.6" fill="none" stroke="#000" stroke-width="1.9"/>
<circle cx="1798.43" cy="273.98" r="4.6" fill="none" stroke="#000" stroke-width="1.9"/>
<circle cx="1800.06" cy="273.74" r="4.6" fill="none" stroke="#000" stroke-width="1.9"/>
<circle cx="1801.67" cy="273.1" r="4.6" fill="none" stroke="#000" stroke-width="1.9"/>
<circle cx="1803.26" cy="272.67" r="4.6" fill="none" stroke="#000" stroke-width="1.9"/>
<circle cx="1804.84" cy="271.31" r="4.6" fill="none" stroke="#000" stroke-width="1.9"/>
<circle cx="1806.4" cy="266.07" r="4.6" fill="none" stroke="#000" stroke-width="1.9"/>
<circle cx="1807.95" cy="265.05" r="4.6" fill="none" stroke="#000" stroke-width="1.9"/>
<circle cx="1809.49" cy="264.36" r="4.6" fill="none" stroke="#000" stroke-width="1.9"/>
<circle cx="1811.01" cy="262.01" r="4.6" fill="none" stroke="#000" stroke-width="1.9"/>
<circle cx="1812.53" cy="262" r="4.6" fill="none" stroke="#000" stroke-width="1.9"/>
<circle cx="1814.04" cy="259.94" r="4.6" fill="none" stroke="#000" stroke-width="1.9"/>
<circle cx="1815.55" cy="258.47" r="4.6" fill="none" stroke="#000" stroke-width="1.9"/>
<circle cx="1817.04" cy="258.3" r="4.6" fill="none" stroke="#000" stroke-width="1.9"/>
<circle cx="1818.54" cy="257.91" r="4.6" fill="none" stroke="#000" stroke-width="1.9"/>
<circle cx="1820.03" cy="255.57" r="4.6" fill="none" stroke="#000" stroke-width="1.9"/>
<circle cx="1821.51" cy="255.13" r="4.6" fill="none" stroke="#000" stroke-width="1.9"/>
<circle cx="1823" cy="249.8" r="4.6" fill="none" stroke="#000" stroke-width="1.9"/>
<circle cx="1824.49" cy="249.74" r="4.6" fill="none" stroke="#000" stroke-width="1.9"/>
<circle cx="1825.97" cy="249.17" r="4.6" fill="none" stroke="#000" stroke-width="1.9"/>
<circle cx="1827.46" cy="245.79" r="4.6" fill="none" stroke="#000" stroke-width="1.9"/>
<circle cx="1828.96" cy="244.59" r="4.6" fill="none" stroke="#000" stroke-width="1.9"/>
<circle cx="1830.45" cy="243.01" r="4.6" fill="none" stroke="#000" stroke-width="1.9"/>
<circle cx="1831.96" cy="242.97" r="4.6" fill="none" stroke="#000" stroke-width="1.9"/>
<circle cx="1833.47" cy="242.2" r="4.6" fill="none" stroke="#000" stroke-width="1.9"/>
<circle cx="1834.99" cy="240.89" r="4.6" fill="none" stroke="#000" stroke-width="1.9"/>
<circle cx="1836.51" cy="240.81" r="4.6" fill="none" stroke="#000" stroke-width="1.9"/>
<circle cx="1838.05" cy="240.06" r="4.6" fill="none" stroke="#000" stroke-width="1.9"/>
<circle cx="1839.6" cy="239.95" r="4.6" fill="none" stroke="#000" stroke-width="1.9"/>
<circle cx="1841.16" cy="238.23" r="4.6" fill="none" stroke="#000" stroke-width="1.9"/>
<circle cx="1842.74" cy="230.79" r="4.6" fill="none" stroke="#000" stroke-width="1.9"/>
<circle cx="1844.33" cy="229.42" r="4.6" fill="none" stroke="#000" stroke-width="1.9"/>
<circle cx="1845.94" cy="226.65" r="4.6" fill="none" stroke="#000" stroke-width="1.9"/>
<circle cx="1847.57" cy="224.53" r="4.6" fill="none" stroke="#000" stroke-width="1.9"/>
<circle cx="1849.23" cy="222.57" r="4.6" fill="none" stroke="#000" stroke-width="1.9"/>
<circle cx="1850.9" cy="219.89" r="4.6" fill="none" stroke="#000" stroke-width="1.9"/>
<circle cx="1852.61" cy="219.66" r="4.6" fill="none" stroke="#000" stroke-width="1.9"/>
<circle cx="1854.34" cy="218.33" r="4.6" fill="none" stroke="#000" stroke-width="1.9"/>
<circle cx="1856.1" cy="217.74" r="4.6" fill="none" stroke="#000" stroke-width="1.9"/>
<circle cx="1857.9" cy="216.97" r="4.6" fill="none" stroke="#000" stroke-width="1.9"/>
<circle cx="1859.73" cy="214.14" r="4.6" fill="none" stroke="#000" stroke-width="1.9"/>
<circle cx="1861.61" cy="211.75" r="4.6" fill="none" stroke="#000" stroke-width="1.9"/>
<circle cx="1863.53" cy="211.45" r="4.6" fill="none" stroke="#000" stroke-width="1.9"/>
<circle cx="1865.51" cy="209.13" r="4.6" fill="none" stroke="#000" stroke-width="1.9"/>
<circle cx="1867.54" cy="208" r="4.6" fill="none" stroke="#000" stroke-width="1.9"/>
<circle cx="1869.63" cy="207.83" r="4.6" fill="none" stroke="#000" stroke-width="1.9"/>
<circle cx="1871.79" cy="206.87" r="4.6" fill="none" stroke="#000" stroke-width="1.9"/>
<circle cx="1874.03" cy="205.5" r="4.6" fill="none" stroke="#000" stroke-width="1.9"/>
<circle cx="1876.35" cy="204.11" r="4.6" fill="none" stroke="#000" stroke-width="1.9"/>
<circle cx="1878.78" cy="199.24" r="4.6" fill="none" stroke="#000" stroke-width="1.9"/>
<circle cx="1881.32" cy="197.99" r="4.6" fill="none" stroke="#000" stroke-width="1.9"/>
<circle cx="1883.98" cy="196.34" r="4.6" fill="none" stroke="#000" stroke-width="1.9"/>
<circle cx="1886.8" cy="193.78" r="4.6" fill="none" stroke="#000" stroke-width="1.9"/>
<circle cx="1889.8" cy="189.14" r="4.6" fill="none" stroke="#000" stroke-width="1.9"/>
<circle cx="1893.01" cy="183.94" r="4.6" fill="none" stroke="#000" stroke-width="1.9"/>
<circle cx="1896.47" cy="178.25" r="4.6" fill="none" stroke="#000" stroke-width="1.9"/>
<circle cx="1900.25" cy="178.06" r="4.6" fill="none" stroke="#000" stroke-width="1.9"/>
<circle cx="1904.43" cy="176.59" r="4.6" fill="none" stroke="#000" stroke-width="1.9"/>
<circle cx="1909.15" cy="173.61" r="4.6" fill="none" stroke="#000" stroke-width="1.9"/>
<circle cx="1914.59" cy="172.85" r="4.6" fill="none" stroke="#000" stroke-width="1.9"/>
<circle cx="1921.1" cy="161.34" r="4.6" fill="none" stroke="#000" stroke-width="1.9"/>
<circle cx="1929.37" cy="151.42" r="4.6" fill="none" stroke="#000" stroke-width="1.9"/>
<circle cx="1941.09" cy="144.62" r="4.6" fill="none" stroke="#000" stroke-width="1.9"/>
<circle cx="1963.67" cy="115.33" r="4.6" fill="none" stroke="#000" stroke-width="1.9"/>
<rect x="1670.8" y="87.7" width="306.1" height="275.9" fill="none" stroke="#000" stroke-width="1.9"/>
<line x1="1656.3" y1="104.4" x2="1670.8" y2="104.4" stroke="#000" stroke-width="1.8" stroke-linecap="butt"/>
<text x="1637.28" y="110.6" font-size="26" textLength="14.46" lengthAdjust="spacingAndGlyphs">3</text>
<line x1="1656.3" y1="151.9" x2="1670.8" y2="151.9" stroke="#000" stroke-width="1.8" stroke-linecap="butt"/>
<text x="1637.45" y="158.1" font-size="26" textLength="14.46" lengthAdjust="spacingAndGlyphs">2</text>
<line x1="1656.3" y1="199.4" x2="1670.8" y2="199.4" stroke="#000" stroke-width="1.8" stroke-linecap="butt"/>
<text x="1637.41" y="205.6" font-size="26" textLength="14.46" lengthAdjust="spacingAndGlyphs">1</text>
<line x1="1656.3" y1="246.9" x2="1670.8" y2="246.9" stroke="#000" stroke-width="1.8" stroke-linecap="butt"/>
<text x="1637.16" y="253.1" font-size="26" textLength="14.46" lengthAdjust="spacingAndGlyphs">0</text>
<line x1="1656.3" y1="294.4" x2="1670.8" y2="294.4" stroke="#000" stroke-width="1.8" stroke-linecap="butt"/>
<text x="1628.75" y="300.6" font-size="26" textLength="23.12" lengthAdjust="spacingAndGlyphs">-1</text>
<line x1="1656.3" y1="341.9" x2="1670.8" y2="341.9" stroke="#000" stroke-width="1.8" stroke-linecap="butt"/>
<text x="1628.79" y="348.1" font-size="26" textLength="23.12" lengthAdjust="spacingAndGlyphs">-2</text>
<line x1="1712.7" y1="363.6" x2="1712.7" y2="379.1" stroke="#000" stroke-width="1.8" stroke-linecap="butt"/>
<text x="1701.22" y="405.6" font-size="26" textLength="23.12" lengthAdjust="spacingAndGlyphs">-2</text>
<line x1="1767.85" y1="363.6" x2="1767.85" y2="379.1" stroke="#000" stroke-width="1.8" stroke-linecap="butt"/>
<text x="1756.35" y="405.6" font-size="26" textLength="23.12" lengthAdjust="spacingAndGlyphs">-1</text>
<line x1="1823" y1="363.6" x2="1823" y2="379.1" stroke="#000" stroke-width="1.8" stroke-linecap="butt"/>
<text x="1815.77" y="405.6" font-size="26" textLength="14.46" lengthAdjust="spacingAndGlyphs">0</text>
<line x1="1878.15" y1="363.6" x2="1878.15" y2="379.1" stroke="#000" stroke-width="1.8" stroke-linecap="butt"/>
<text x="1870.56" y="405.6" font-size="26" textLength="14.46" lengthAdjust="spacingAndGlyphs">1</text>
<line x1="1933.3" y1="363.6" x2="1933.3" y2="379.1" stroke="#000" stroke-width="1.8" stroke-linecap="butt"/>
<text x="1926.07" y="405.6" font-size="26" textLength="14.46" lengthAdjust="spacingAndGlyphs">2</text>
<text x="1710.14" y="75.8" font-size="31.5" textLength="226.78" lengthAdjust="spacingAndGlyphs">Normal Q-Q plot</text>
<text x="1695.88" y="448" font-size="28.8" textLength="255.82" lengthAdjust="spacingAndGlyphs">Theoretical quantiles</text>
<text transform="translate(1611,364.7) rotate(-90)" x="-1.25" y="0" font-size="28.6" textLength="281.05" lengthAdjust="spacingAndGlyphs">Standardized residuals</text>
<text x="1936.33" y="123.3" font-size="19" textLength="21.34" lengthAdjust="spacingAndGlyphs">62</text>
<text x="1914.03" y="147.5" font-size="19" textLength="20.59" lengthAdjust="spacingAndGlyphs">90</text>
<text x="1690.6" y="360.7" font-size="19" textLength="30.61" lengthAdjust="spacingAndGlyphs">100</text>
<circle cx="1232.51" cy="626.03" r="4.6" fill="none" stroke="#000" stroke-width="1.9"/>
<circle cx="1288.33" cy="568.38" r="4.6" fill="none" stroke="#000" stroke-width="1.9"/>
<circle cx="1228.75" cy="672.02" r="4.6" fill="none" stroke="#000" stroke-width="1.9"/>
<circle cx="1223.56" cy="683.27" r="4.6" fill="none" stroke="#000" stroke-width="1.9"/>
<circle cx="1213.25" cy="709.86" r="4.6" fill="none" stroke="#000" stroke-width="1.9"/>
<circle cx="1278.2" cy="601.32" r="4.6" fill="none" stroke="#000" stroke-width="1.9"/>
<circle cx="1297.4" cy="598.31" r="4.6" fill="none" stroke="#000" stroke-width="1.9"/>
<circle cx="1285.05" cy="623.29" r="4.6" fill="none" stroke="#000" stroke-width="1.9"/>
<circle cx="1297.96" cy="629.35" r="4.6" fill="none" stroke="#000" stroke-width="1.9"/>
<circle cx="1239.92" cy="752.38" r="4.6" fill="none" stroke="#000" stroke-width="1.9"/>
<circle cx="1260.54" cy="720.71" r="4.6" fill="none" stroke="#000" stroke-width="1.9"/>
<circle cx="1289.87" cy="686.3" r="4.6" fill="none" stroke="#000" stroke-width="1.9"/>
<circle cx="1237.33" cy="674.46" r="4.6" fill="none" stroke="#000" stroke-width="1.9"/>
<circle cx="1205.35" cy="611.31" r="4.6" fill="none" stroke="#000" stroke-width="1.9"/>
<circle cx="1285.92" cy="730.91" r="4.6" fill="none" stroke="#000" stroke-width="1.9"/>
<circle cx="1318.08" cy="673.74" r="4.6" fill="none" stroke="#000" stroke-width="1.9"/>
<circle cx="1390.75" cy="573.68" r="4.6" fill="none" stroke="#000" stroke-width="1.9"/>
<circle cx="1334.38" cy="653.08" r="4.6" fill="none" stroke="#000" stroke-width="1.9"/>
<circle cx="1287.83" cy="738.28" r="4.6" fill="none" stroke="#000" stroke-width="1.9"/>
<circle cx="1343.95" cy="646.17" r="4.6" fill="none" stroke="#000" stroke-width="1.9"/>
<circle cx="1330.18" cy="672" r="4.6" fill="none" stroke="#000" stroke-width="1.9"/>
<circle cx="1363.71" cy="623.64" r="4.6" fill="none" stroke="#000" stroke-width="1.9"/>
<circle cx="1320.31" cy="709.88" r="4.6" fill="none" stroke="#000" stroke-width="1.9"/>
<circle cx="1316.36" cy="722.56" r="4.6" fill="none" stroke="#000" stroke-width="1.9"/>
<circle cx="1308.51" cy="758.65" r="4.6" fill="none" stroke="#000" stroke-width="1.9"/>
<circle cx="1323.95" cy="716.02" r="4.6" fill="none" stroke="#000" stroke-width="1.9"/>
<circle cx="1249" cy="609.33" r="4.6" fill="none" stroke="#000" stroke-width="1.9"/>
<circle cx="1354.7" cy="667.99" r="4.6" fill="none" stroke="#000" stroke-width="1.9"/>
<circle cx="1403.47" cy="607.14" r="4.6" fill="none" stroke="#000" stroke-width="1.9"/>
<circle cx="1394.83" cy="619.3" r="4.6" fill="none" stroke="#000" stroke-width="1.9"/>
<circle cx="1384.52" cy="644.27" r="4.6" fill="none" stroke="#000" stroke-width="1.9"/>
<circle cx="1368.34" cy="674.7" r="4.6" fill="none" stroke="#000" stroke-width="1.9"/>
<circle cx="1389.02" cy="646.19" r="4.6" fill="none" stroke="#000" stroke-width="1.9"/>
<circle cx="1378.65" cy="665.18" r="4.6" fill="none" stroke="#000" stroke-width="1.9"/>
<circle cx="1347.35" cy="763.04" r="4.6" fill="none" stroke="#000" stroke-width="1.9"/>
<circle cx="1376.12" cy="682.33" r="4.6" fill="none" stroke="#000" stroke-width="1.9"/>
<circle cx="1434.77" cy="595.56" r="4.6" fill="none" stroke="#000" stroke-width="1.9"/>
<circle cx="1415.88" cy="621.48" r="4.6" fill="none" stroke="#000" stroke-width="1.9"/>
<circle cx="1407.11" cy="634.91" r="4.6" fill="none" stroke="#000" stroke-width="1.9"/>
<circle cx="1340.43" cy="691.02" r="4.6" fill="none" stroke="#000" stroke-width="1.9"/>
<circle cx="1322.04" cy="652.93" r="4.6" fill="none" stroke="#000" stroke-width="1.9"/>
<circle cx="1422.98" cy="627.73" r="4.6" fill="none" stroke="#000" stroke-width="1.9"/>
<circle cx="1378.71" cy="721.27" r="4.6" fill="none" stroke="#000" stroke-width="1.9"/>
<circle cx="1370.44" cy="759.05" r="4.6" fill="none" stroke="#000" stroke-width="1.9"/>
<circle cx="1296.1" cy="604.43" r="4.6" fill="none" stroke="#000" stroke-width="1.9"/>
<circle cx="1390.88" cy="701.51" r="4.6" fill="none" stroke="#000" stroke-width="1.9"/>
<circle cx="1364.94" cy="730.89" r="4.6" fill="none" stroke="#000" stroke-width="1.9"/>
<circle cx="1335.56" cy="657.03" r="4.6" fill="none" stroke="#000" stroke-width="1.9"/>
<circle cx="1435.45" cy="625.91" r="4.6" fill="none" stroke="#000" stroke-width="1.9"/>
<circle cx="1344.69" cy="663.67" r="4.6" fill="none" stroke="#000" stroke-width="1.9"/>
<circle cx="1430.51" cy="642.72" r="4.6" fill="none" stroke="#000" stroke-width="1.9"/>
<circle cx="1412.42" cy="676.83" r="4.6" fill="none" stroke="#000" stroke-width="1.9"/>
<circle cx="1383.53" cy="773.17" r="4.6" fill="none" stroke="#000" stroke-width="1.9"/>
<circle cx="1378.71" cy="741.56" r="4.6" fill="none" stroke="#000" stroke-width="1.9"/>
<circle cx="1369.02" cy="707" r="4.6" fill="none" stroke="#000" stroke-width="1.9"/>
<circle cx="1356.98" cy="677.27" r="4.6" fill="none" stroke="#000" stroke-width="1.9"/>
<circle cx="1338.52" cy="642.44" r="4.6" fill="none" stroke="#000" stroke-width="1.9"/>
<circle cx="1416.19" cy="680.93" r="4.6" fill="none" stroke="#000" stroke-width="1.9"/>
<circle cx="1407.11" cy="703.34" r="4.6" fill="none" stroke="#000" stroke-width="1.9"/>
<circle cx="1422.05" cy="680.42" r="4.6" fill="none" stroke="#000" stroke-width="1.9"/>
<circle cx="1392.11" cy="752.64" r="4.6" fill="none" stroke="#000" stroke-width="1.9"/>
<circle cx="1369.76" cy="680.58" r="4.6" fill="none" stroke="#000" stroke-width="1.9"/>
<circle cx="1357.17" cy="655.32" r="4.6" fill="none" stroke="#000" stroke-width="1.9"/>
<circle cx="1335" cy="619.41" r="4.6" fill="none" stroke="#000" stroke-width="1.9"/>
<circle cx="1313.14" cy="590.01" r="4.6" fill="none" stroke="#000" stroke-width="1.9"/>
<circle cx="1409.46" cy="732.61" r="4.6" fill="none" stroke="#000" stroke-width="1.9"/>
<circle cx="1395.69" cy="741.91" r="4.6" fill="none" stroke="#000" stroke-width="1.9"/>
<circle cx="1381.92" cy="696.14" r="4.6" fill="none" stroke="#000" stroke-width="1.9"/>
<circle cx="1363.89" cy="657.34" r="4.6" fill="none" stroke="#000" stroke-width="1.9"/>
<circle cx="1360.13" cy="650.53" r="4.6" fill="none" stroke="#000" stroke-width="1.9"/>
<circle cx="1373.16" cy="664.23" r="4.6" fill="none" stroke="#000" stroke-width="1.9"/>
<circle cx="1363.89" cy="637.82" r="4.6" fill="none" stroke="#000" stroke-width="1.9"/>
<circle cx="1386.74" cy="668.81" r="4.6" fill="none" stroke="#000" stroke-width="1.9"/>
<circle cx="1371.12" cy="640.43" r="4.6" fill="none" stroke="#000" stroke-width="1.9"/>
<circle cx="1460.7" cy="659.11" r="4.6" fill="none" stroke="#000" stroke-width="1.9"/>
<circle cx="1455.21" cy="669.84" r="4.6" fill="none" stroke="#000" stroke-width="1.9"/>
<circle cx="1393.16" cy="659.37" r="4.6" fill="none" stroke="#000" stroke-width="1.9"/>
<circle cx="1373.84" cy="626.88" r="4.6" fill="none" stroke="#000" stroke-width="1.9"/>
<circle cx="1428.6" cy="737.81" r="4.6" fill="none" stroke="#000" stroke-width="1.9"/>
<circle cx="1383.96" cy="633.85" r="4.6" fill="none" stroke="#000" stroke-width="1.9"/>
<circle cx="1417.42" cy="686.48" r="4.6" fill="none" stroke="#000" stroke-width="1.9"/>
<circle cx="1475.4" cy="674.72" r="4.6" fill="none" stroke="#000" stroke-width="1.9"/>
<circle cx="1447.68" cy="748.26" r="4.6" fill="none" stroke="#000" stroke-width="1.9"/>
<circle cx="1476.38" cy="698.88" r="4.6" fill="none" stroke="#000" stroke-width="1.9"/>
<circle cx="1461.26" cy="762.76" r="4.6" fill="none" stroke="#000" stroke-width="1.9"/>
<circle cx="1457.86" cy="703.29" r="4.6" fill="none" stroke="#000" stroke-width="1.9"/>
<circle cx="1403.9" cy="605.41" r="4.6" fill="none" stroke="#000" stroke-width="1.9"/>
<circle cx="1393.72" cy="578.36" r="4.6" fill="none" stroke="#000" stroke-width="1.9"/>
<circle cx="1398.41" cy="570.72" r="4.6" fill="none" stroke="#000" stroke-width="1.9"/>
<circle cx="1487.87" cy="680.08" r="4.6" fill="none" stroke="#000" stroke-width="1.9"/>
<circle cx="1486.02" cy="676.05" r="4.6" fill="none" stroke="#000" stroke-width="1.9"/>
<circle cx="1459.1" cy="611.56" r="4.6" fill="none" stroke="#000" stroke-width="1.9"/>
<circle cx="1403.9" cy="540.4" r="4.6" fill="none" stroke="#000" stroke-width="1.9"/>
<polyline fill="none" points="1206,664.2 1224.1,662.9 1296.3,662.7 1303.4,660.9 1310.5,659.7 1317.5,660.9 1324.6,662.1 1332.5,665.2 1341.1,668.8 1350,670 1360.7,669.6 1376.4,667.2 1388.2,665.6 1396.1,662.5 1406.3,661.7 1415.7,662.9 1423.6,666 1435.3,669.6 1447.1,671.1 1458.9,673.5 1470.7,676.2 1478.5,678.2 1488,681" stroke="#ff0000" stroke-width="2.3" stroke-linejoin="round"/>
<rect x="1194.2" y="531" width="306.1" height="275.8" fill="none" stroke="#000" stroke-width="1.9"/>
<line x1="1179.7" y1="565.7" x2="1194.2" y2="565.7" stroke="#000" stroke-width="1.8" stroke-linecap="butt"/>
<text x="1137.75" y="571.9" font-size="26" textLength="36.14" lengthAdjust="spacingAndGlyphs">1.5</text>
<line x1="1179.7" y1="642.7" x2="1194.2" y2="642.7" stroke="#000" stroke-width="1.8" stroke-linecap="butt"/>
<text x="1137.67" y="648.9" font-size="26" textLength="36.14" lengthAdjust="spacingAndGlyphs">1.0</text>
<line x1="1179.7" y1="719.7" x2="1194.2" y2="719.7" stroke="#000" stroke-width="1.8" stroke-linecap="butt"/>
<text x="1137.75" y="725.9" font-size="26" textLength="36.14" lengthAdjust="spacingAndGlyphs">0.5</text>
<line x1="1179.7" y1="796.7" x2="1194.2" y2="796.7" stroke="#000" stroke-width="1.8" stroke-linecap="butt"/>
<text x="1137.67" y="802.9" font-size="26" textLength="36.14" lengthAdjust="spacingAndGlyphs">0.0</text>
<line x1="1226.82" y1="806.8" x2="1226.82" y2="822.3" stroke="#000" stroke-width="1.8" stroke-linecap="butt"/>
<text x="1203.55" y="849.6" font-size="26" textLength="28.92" lengthAdjust="spacingAndGlyphs">30</text>
<line x1="1283.17" y1="806.8" x2="1283.17" y2="822.3" stroke="#000" stroke-width="1.8" stroke-linecap="butt"/>
<text x="1263.35" y="849.6" font-size="26" textLength="28.92" lengthAdjust="spacingAndGlyphs">40</text>
<line x1="1339.52" y1="806.8" x2="1339.52" y2="822.3" stroke="#000" stroke-width="1.8" stroke-linecap="butt"/>
<text x="1322.83" y="849.6" font-size="26" textLength="28.92" lengthAdjust="spacingAndGlyphs">50</text>
<line x1="1395.87" y1="806.8" x2="1395.87" y2="822.3" stroke="#000" stroke-width="1.8" stroke-linecap="butt"/>
<text x="1382.89" y="849.6" font-size="26" textLength="28.92" lengthAdjust="spacingAndGlyphs">60</text>
<line x1="1452.22" y1="806.8" x2="1452.22" y2="822.3" stroke="#000" stroke-width="1.8" stroke-linecap="butt"/>
<text x="1443.38" y="849.6" font-size="26" textLength="28.92" lengthAdjust="spacingAndGlyphs">70</text>
<text x="1243.58" y="518.8" font-size="31.5" textLength="206.65" lengthAdjust="spacingAndGlyphs">Scale-Location</text>
<text x="1267.53" y="890.8" font-size="28.8" textLength="156.97" lengthAdjust="spacingAndGlyphs">Fitted values</text>
<text transform="translate(1125.8,801.3) rotate(-90)" x="-1.26" y="0" font-size="28.8" textLength="282.16" lengthAdjust="spacingAndGlyphs">Standardized residuals</text>
<text x="1374.42" y="548.3" font-size="19" textLength="21.45" lengthAdjust="spacingAndGlyphs">62</text>
<text x="1368.93" y="573.6" font-size="19" textLength="20.59" lengthAdjust="spacingAndGlyphs">90</text>
<text x="1296.8" y="571.8" font-size="19" textLength="30.72" lengthAdjust="spacingAndGlyphs">100</text>
<path d="M1096,520.2 L1096,802 L1125.2,806.4" fill="none" stroke="#000" stroke-width="1.6"/>
<path d="M1125.2,806.4 L1109.4,813.4 L1111.4,816.8" fill="none" stroke="#000" stroke-width="2.1"/>
<line x1="1671.8" y1="679.3" x2="1975.9" y2="679.3" stroke="#a8a8a8" stroke-width="1.8" stroke-dasharray="2.8,4.8" stroke-linecap="butt"/>
<line x1="1681.5" y1="532.1" x2="1681.5" y2="805.5" stroke="#a8a8a8" stroke-width="1.8" stroke-dasharray="2.8,4.8" stroke-linecap="butt"/>
<circle cx="1740.4" cy="558.8" r="4.6" fill="none" stroke="#000" stroke-width="1.9"/>
<circle cx="1773.6" cy="591.2" r="4.6" fill="none" stroke="#000" stroke-width="1.9"/>
<circle cx="1819.4" cy="599.9" r="4.6" fill="none" stroke="#000" stroke-width="1.9"/>
<circle cx="1764.5" cy="611.3" r="4.6" fill="none" stroke="#000" stroke-width="1.9"/>
<circle cx="1774.6" cy="611.5" r="4.6" fill="none" stroke="#000" stroke-width="1.9"/>
<circle cx="1777.1" cy="615.2" r="4.6" fill="none" stroke="#000" stroke-width="1.9"/>
<circle cx="1807.9" cy="616" r="4.6" fill="none" stroke="#000" stroke-width="1.9"/>
<circle cx="1770.6" cy="626.1" r="4.6" fill="none" stroke="#000" stroke-width="1.9"/>
<circle cx="1779.9" cy="630.2" r="4.6" fill="none" stroke="#000" stroke-width="1.9"/>
<circle cx="1754.8" cy="633" r="4.6" fill="none" stroke="#000" stroke-width="1.9"/>
<circle cx="1722.3" cy="636.2" r="4.6" fill="none" stroke="#000" stroke-width="1.9"/>
<circle cx="1745.4" cy="641.5" r="4.6" fill="none" stroke="#000" stroke-width="1.9"/>
<circle cx="1772.6" cy="635.4" r="4.6" fill="none" stroke="#000" stroke-width="1.9"/>
<circle cx="1776.2" cy="641.1" r="4.6" fill="none" stroke="#000" stroke-width="1.9"/>
<circle cx="1750.7" cy="645.2" r="4.6" fill="none" stroke="#000" stroke-width="1.9"/>
<circle cx="1764.9" cy="646.8" r="4.6" fill="none" stroke="#000" stroke-width="1.9"/>
<circle cx="1781.9" cy="643.1" r="4.6" fill="none" stroke="#000" stroke-width="1.9"/>
<circle cx="1791.2" cy="642.7" r="4.6" fill="none" stroke="#000" stroke-width="1.9"/>
<circle cx="1803.4" cy="642.7" r="4.6" fill="none" stroke="#000" stroke-width="1.9"/>
<circle cx="1832" cy="639.9" r="4.6" fill="none" stroke="#000" stroke-width="1.9"/>
<circle cx="1739.3" cy="649.6" r="4.6" fill="none" stroke="#000" stroke-width="1.9"/>
<circle cx="1707" cy="655.3" r="4.6" fill="none" stroke="#000" stroke-width="1.9"/>
<circle cx="1709" cy="654.5" r="4.6" fill="none" stroke="#000" stroke-width="1.9"/>
<circle cx="1775.4" cy="658.1" r="4.6" fill="none" stroke="#000" stroke-width="1.9"/>
<circle cx="1805.8" cy="660.6" r="4.6" fill="none" stroke="#000" stroke-width="1.9"/>
<circle cx="1752.3" cy="673" r="4.6" fill="none" stroke="#000" stroke-width="1.9"/>
<circle cx="1765.3" cy="673.4" r="4.6" fill="none" stroke="#000" stroke-width="1.9"/>
<circle cx="1768" cy="674.6" r="4.6" fill="none" stroke="#000" stroke-width="1.9"/>
<circle cx="1779.1" cy="672.2" r="4.6" fill="none" stroke="#000" stroke-width="1.9"/>
<circle cx="1785.2" cy="675.4" r="4.6" fill="none" stroke="#000" stroke-width="1.9"/>
<circle cx="1792.1" cy="679.1" r="4.6" fill="none" stroke="#000" stroke-width="1.9"/>
<circle cx="1821.7" cy="673" r="4.6" fill="none" stroke="#000" stroke-width="1.9"/>
<circle cx="1831.2" cy="676.2" r="4.6" fill="none" stroke="#000" stroke-width="1.9"/>
<circle cx="1735.3" cy="682.7" r="4.6" fill="none" stroke="#000" stroke-width="1.9"/>
<circle cx="1766.9" cy="682.7" r="4.6" fill="none" stroke="#000" stroke-width="1.9"/>
<circle cx="1775.4" cy="683.5" r="4.6" fill="none" stroke="#000" stroke-width="1.9"/>
<circle cx="1776.2" cy="688" r="4.6" fill="none" stroke="#000" stroke-width="1.9"/>
<circle cx="1787.5" cy="680.3" r="4.6" fill="none" stroke="#000" stroke-width="1.9"/>
<circle cx="1817.6" cy="682.7" r="4.6" fill="none" stroke="#000" stroke-width="1.9"/>
<circle cx="1811.1" cy="692" r="4.6" fill="none" stroke="#000" stroke-width="1.9"/>
<circle cx="1812.5" cy="691" r="4.6" fill="none" stroke="#000" stroke-width="1.9"/>
<circle cx="1767.7" cy="697.3" r="4.6" fill="none" stroke="#000" stroke-width="1.9"/>
<circle cx="1741" cy="703.8" r="4.6" fill="none" stroke="#000" stroke-width="1.9"/>
<circle cx="1749.1" cy="710.3" r="4.6" fill="none" stroke="#000" stroke-width="1.9"/>
<circle cx="1761.2" cy="708.7" r="4.6" fill="none" stroke="#000" stroke-width="1.9"/>
<circle cx="1800.6" cy="707.9" r="4.6" fill="none" stroke="#000" stroke-width="1.9"/>
<circle cx="1801.5" cy="708.5" r="4.6" fill="none" stroke="#000" stroke-width="1.9"/>
<circle cx="1810.7" cy="710.3" r="4.6" fill="none" stroke="#000" stroke-width="1.9"/>
<circle cx="1817.6" cy="706.2" r="4.6" fill="none" stroke="#000" stroke-width="1.9"/>
<circle cx="1782.3" cy="718.2" r="4.6" fill="none" stroke="#000" stroke-width="1.9"/>
<circle cx="1734.5" cy="721.6" r="4.6" fill="none" stroke="#000" stroke-width="1.9"/>
<circle cx="1809.9" cy="723.7" r="4.6" fill="none" stroke="#000" stroke-width="1.9"/>
<circle cx="1738.1" cy="735.4" r="4.6" fill="none" stroke="#000" stroke-width="1.9"/>
<circle cx="1739" cy="736.5" r="4.6" fill="none" stroke="#000" stroke-width="1.9"/>
<circle cx="1759.2" cy="733.4" r="4.6" fill="none" stroke="#000" stroke-width="1.9"/>
<circle cx="1775.4" cy="735.4" r="4.6" fill="none" stroke="#000" stroke-width="1.9"/>
<circle cx="1796.5" cy="746.8" r="4.6" fill="none" stroke="#000" stroke-width="1.9"/>
<circle cx="1736.5" cy="753.3" r="4.6" fill="none" stroke="#000" stroke-width="1.9"/>
<circle cx="1765.7" cy="750.8" r="4.6" fill="none" stroke="#000" stroke-width="1.9"/>
<circle cx="1759.2" cy="772.7" r="4.6" fill="none" stroke="#000" stroke-width="1.9"/>
<circle cx="1904.2" cy="581.9" r="4.6" fill="none" stroke="#000" stroke-width="1.9"/>
<circle cx="1874.6" cy="615.2" r="4.6" fill="none" stroke="#000" stroke-width="1.9"/>
<circle cx="1886" cy="619.6" r="4.6" fill="none" stroke="#000" stroke-width="1.9"/>
<circle cx="1924.1" cy="618.8" r="4.6" fill="none" stroke="#000" stroke-width="1.9"/>
<circle cx="1866.1" cy="643.5" r="4.6" fill="none" stroke="#000" stroke-width="1.9"/>
<circle cx="1867.3" cy="646.8" r="4.6" fill="none" stroke="#000" stroke-width="1.9"/>
<circle cx="1842.2" cy="652.5" r="4.6" fill="none" stroke="#000" stroke-width="1.9"/>
<circle cx="1848.3" cy="658.1" r="4.6" fill="none" stroke="#000" stroke-width="1.9"/>
<circle cx="1851.1" cy="663.8" r="4.6" fill="none" stroke="#000" stroke-width="1.9"/>
<circle cx="1895.7" cy="654.1" r="4.6" fill="none" stroke="#000" stroke-width="1.9"/>
<circle cx="1890.8" cy="664.6" r="4.6" fill="none" stroke="#000" stroke-width="1.9"/>
<circle cx="1931" cy="651.2" r="4.6" fill="none" stroke="#000" stroke-width="1.9"/>
<circle cx="1871.8" cy="676.8" r="4.6" fill="none" stroke="#000" stroke-width="1.9"/>
<circle cx="1853.1" cy="689.2" r="4.6" fill="none" stroke="#000" stroke-width="1.9"/>
<circle cx="1853.9" cy="694.9" r="4.6" fill="none" stroke="#000" stroke-width="1.9"/>
<circle cx="1849.9" cy="697.3" r="4.6" fill="none" stroke="#000" stroke-width="1.9"/>
<circle cx="1889.6" cy="695.7" r="4.6" fill="none" stroke="#000" stroke-width="1.9"/>
<circle cx="1834.5" cy="702.6" r="4.6" fill="none" stroke="#000" stroke-width="1.9"/>
<circle cx="1920.4" cy="705" r="4.6" fill="none" stroke="#000" stroke-width="1.9"/>
<circle cx="1965.4" cy="705.8" r="4.6" fill="none" stroke="#000" stroke-width="1.9"/>
<circle cx="1847.4" cy="708.7" r="4.6" fill="none" stroke="#000" stroke-width="1.9"/>
<circle cx="1840.1" cy="710.3" r="4.6" fill="none" stroke="#000" stroke-width="1.9"/>
<circle cx="1828.8" cy="715.6" r="4.6" fill="none" stroke="#000" stroke-width="1.9"/>
<circle cx="1867.7" cy="712.3" r="4.6" fill="none" stroke="#000" stroke-width="1.9"/>
<circle cx="1855.6" cy="722.9" r="4.6" fill="none" stroke="#000" stroke-width="1.9"/>
<circle cx="1874.6" cy="724.9" r="4.6" fill="none" stroke="#000" stroke-width="1.9"/>
<circle cx="1823.9" cy="730.2" r="4.6" fill="none" stroke="#000" stroke-width="1.9"/>
<circle cx="1831.2" cy="732.2" r="4.6" fill="none" stroke="#000" stroke-width="1.9"/>
<circle cx="1833.7" cy="740.7" r="4.6" fill="none" stroke="#000" stroke-width="1.9"/>
<circle cx="1883.1" cy="735.4" r="4.6" fill="none" stroke="#000" stroke-width="1.9"/>
<circle cx="1933" cy="736.2" r="4.6" fill="none" stroke="#000" stroke-width="1.9"/>
<circle cx="1861.2" cy="755.3" r="4.6" fill="none" stroke="#000" stroke-width="1.9"/>
<circle cx="1858.9" cy="777.8" r="4.6" fill="none" stroke="#000" stroke-width="1.9"/>
<polyline fill="none" points="1707.3,679.5 1722.3,677.6 1735.6,676.8 1761.3,675.8 1772.3,674.7 1785.5,674.7 1791.4,676.5 1798,679.8 1807.6,684.3 1814.9,687.2 1819.3,689.8 1826,690.9 1830,690.9 1839.6,691.6 1848.4,689.8 1859.4,686.5 1869.7,682.4 1884.4,679.8 1896.1,679.1 1905,678 1921.1,676.9 1932.9,674.7 1950.5,673.6 1966,672.9" stroke="#ff0000" stroke-width="2.3" stroke-linejoin="round"/>
<rect x="1670.8" y="531.1" width="306.1" height="275.4" fill="none" stroke="#000" stroke-width="1.9"/>
<line x1="1656.3" y1="547" x2="1670.8" y2="547" stroke="#000" stroke-width="1.8" stroke-linecap="butt"/>
<text x="1637.28" y="553.2" font-size="26" textLength="14.46" lengthAdjust="spacingAndGlyphs">3</text>
<line x1="1656.3" y1="591.1" x2="1670.8" y2="591.1" stroke="#000" stroke-width="1.8" stroke-linecap="butt"/>
<text x="1637.45" y="597.3" font-size="26" textLength="14.46" lengthAdjust="spacingAndGlyphs">2</text>
<line x1="1656.3" y1="635.2" x2="1670.8" y2="635.2" stroke="#000" stroke-width="1.8" stroke-linecap="butt"/>
<text x="1637.41" y="641.4" font-size="26" textLength="14.46" lengthAdjust="spacingAndGlyphs">1</text>
<line x1="1656.3" y1="679.3" x2="1670.8" y2="679.3" stroke="#000" stroke-width="1.8" stroke-linecap="butt"/>
<text x="1637.16" y="685.5" font-size="26" textLength="14.46" lengthAdjust="spacingAndGlyphs">0</text>
<line x1="1656.3" y1="723.4" x2="1670.8" y2="723.4" stroke="#000" stroke-width="1.8" stroke-linecap="butt"/>
<text x="1628.75" y="729.6" font-size="26" textLength="23.12" lengthAdjust="spacingAndGlyphs">-1</text>
<line x1="1656.3" y1="767.5" x2="1670.8" y2="767.5" stroke="#000" stroke-width="1.8" stroke-linecap="butt"/>
<text x="1628.79" y="773.7" font-size="26" textLength="23.12" lengthAdjust="spacingAndGlyphs">-2</text>
<line x1="1681.5" y1="806.5" x2="1681.5" y2="822" stroke="#000" stroke-width="1.8" stroke-linecap="butt"/>
<text x="1656.2" y="849.6" font-size="26" textLength="50.6" lengthAdjust="spacingAndGlyphs">0.00</text>
<line x1="1722.57" y1="806.5" x2="1722.57" y2="822" stroke="#000" stroke-width="1.8" stroke-linecap="butt"/>
<line x1="1763.64" y1="806.5" x2="1763.64" y2="822" stroke="#000" stroke-width="1.8" stroke-linecap="butt"/>
<text x="1738.22" y="849.6" font-size="26" textLength="50.6" lengthAdjust="spacingAndGlyphs">0.04</text>
<line x1="1804.72" y1="806.5" x2="1804.72" y2="822" stroke="#000" stroke-width="1.8" stroke-linecap="butt"/>
<line x1="1845.79" y1="806.5" x2="1845.79" y2="822" stroke="#000" stroke-width="1.8" stroke-linecap="butt"/>
<text x="1820.54" y="849.6" font-size="26" textLength="50.6" lengthAdjust="spacingAndGlyphs">0.08</text>
<line x1="1886.86" y1="806.5" x2="1886.86" y2="822" stroke="#000" stroke-width="1.8" stroke-linecap="butt"/>
<line x1="1927.93" y1="806.5" x2="1927.93" y2="822" stroke="#000" stroke-width="1.8" stroke-linecap="butt"/>
<text x="1902.78" y="849.6" font-size="26" textLength="50.6" lengthAdjust="spacingAndGlyphs">0.12</text>
<line x1="1969" y1="806.5" x2="1969" y2="822" stroke="#000" stroke-width="1.8" stroke-linecap="butt"/>
<text x="1665.84" y="518.9" font-size="31.5" textLength="315.85" lengthAdjust="spacingAndGlyphs">Residuals vs Leverage</text>
<text x="1695.88" y="889.8" font-size="28.8" textLength="255.82" lengthAdjust="spacingAndGlyphs">Theoretical quantiles</text>
<text transform="translate(1611,804.7) rotate(-90)" x="-1.25" y="0" font-size="28.6" textLength="281.05" lengthAdjust="spacingAndGlyphs">Standardized residuals</text>
<text x="1762.37" y="787.9" font-size="26" textLength="183.89" lengthAdjust="spacingAndGlyphs">Cook's distance</text>
<text x="1875.71" y="588.8" font-size="19" textLength="21.13" lengthAdjust="spacingAndGlyphs">90</text>
<text x="1869.51" y="768.3" font-size="19" textLength="20.08" lengthAdjust="spacingAndGlyphs">36</text>
<text x="1876.24" y="793" font-size="19" textLength="25.35" lengthAdjust="spacingAndGlyphs">100</text>
<line x1="1694.3" y1="777.2" x2="1733.5" y2="777.2" stroke="#ff0000" stroke-width="2" stroke-dasharray="8,6" stroke-linecap="butt"/>
<circle cx="197.79" cy="1597.4" r="7.5" fill="#000"/>
<circle cx="219.56" cy="1536.2" r="7.5" fill="#000"/>
<circle cx="241.34" cy="1609.3" r="7.5" fill="#000"/>
<circle cx="241.34" cy="1630.4" r="7.5" fill="#000"/>
<circle cx="241.34" cy="1662.2" r="7.5" fill="#000"/>
<circle cx="252.22" cy="1576.2" r="7.5" fill="#000"/>
<circle cx="284.88" cy="1507.8" r="7.5" fill="#000"/>
<circle cx="295.77" cy="1556.4" r="7.5" fill="#000"/>
<circle cx="328.43" cy="1514.2" r="7.5" fill="#000"/>
<circle cx="328.43" cy="1598.4" r="7.5" fill="#000"/>
<circle cx="339.32" cy="1507.8" r="7.5" fill="#000"/>
<circle cx="371.98" cy="1516.8" r="7.5" fill="#000"/>
<circle cx="371.98" cy="1606.3" r="7.5" fill="#000"/>
<circle cx="382.87" cy="1642.8" r="7.5" fill="#000"/>
<circle cx="393.75" cy="1559" r="7.5" fill="#000"/>
<circle cx="415.53" cy="1481.3" r="7.5" fill="#000"/>
<circle cx="426.41" cy="1379.4" r="7.5" fill="#000"/>
<circle cx="426.41" cy="1459.5" r="7.5" fill="#000"/>
<circle cx="426.41" cy="1523.5" r="7.5" fill="#000"/>
<circle cx="437.3" cy="1426.9" r="7.5" fill="#000"/>
<circle cx="437.3" cy="1444.5" r="7.5" fill="#000"/>
<circle cx="448.19" cy="1447.7" r="7.5" fill="#000"/>
<circle cx="448.19" cy="1489.9" r="7.5" fill="#000"/>
<circle cx="448.19" cy="1503.1" r="7.5" fill="#000"/>
<circle cx="448.19" cy="1515.4" r="7.5" fill="#000"/>
<circle cx="459.08" cy="1463.1" r="7.5" fill="#000"/>
<circle cx="469.96" cy="1571.7" r="7.5" fill="#000"/>
<circle cx="480.85" cy="1401.8" r="7.5" fill="#000"/>
<circle cx="502.62" cy="1338.4" r="7.5" fill="#000"/>
<circle cx="502.62" cy="1355.4" r="7.5" fill="#000"/>
<circle cx="513.51" cy="1386.6" r="7.5" fill="#000"/>
<circle cx="513.51" cy="1445" r="7.5" fill="#000"/>
<circle cx="524.4" cy="1351.9" r="7.5" fill="#000"/>
<circle cx="524.4" cy="1386.6" r="7.5" fill="#000"/>
<circle cx="524.4" cy="1473.3" r="7.5" fill="#000"/>
<circle cx="535.28" cy="1378.4" r="7.5" fill="#000"/>
<circle cx="546.17" cy="1299.7" r="7.5" fill="#000"/>
<circle cx="546.17" cy="1321" r="7.5" fill="#000"/>
<circle cx="546.17" cy="1388.5" r="7.5" fill="#000"/>
<circle cx="557.06" cy="1418.4" r="7.5" fill="#000"/>
<circle cx="557.06" cy="1454.7" r="7.5" fill="#000"/>
<circle cx="567.95" cy="1272.3" r="7.5" fill="#000"/>
<circle cx="567.95" cy="1356.2" r="7.5" fill="#000"/>
<circle cx="567.95" cy="1372.2" r="7.5" fill="#000"/>
<circle cx="567.95" cy="1470.4" r="7.5" fill="#000"/>
<circle cx="578.83" cy="1327.4" r="7.5" fill="#000"/>
<circle cx="578.83" cy="1337" r="7.5" fill="#000"/>
<circle cx="578.83" cy="1445.7" r="7.5" fill="#000"/>
<circle cx="589.72" cy="1281.6" r="7.5" fill="#000"/>
<circle cx="589.72" cy="1486.8" r="7.5" fill="#000"/>
<circle cx="600.61" cy="1267.9" r="7.5" fill="#000"/>
<circle cx="600.61" cy="1330.6" r="7.5" fill="#000"/>
<circle cx="600.61" cy="1344" r="7.5" fill="#000"/>
<circle cx="600.61" cy="1379.1" r="7.5" fill="#000"/>
<circle cx="600.61" cy="1387.7" r="7.5" fill="#000"/>
<circle cx="600.61" cy="1418.4" r="7.5" fill="#000"/>
<circle cx="600.61" cy="1473.5" r="7.5" fill="#000"/>
<circle cx="611.49" cy="1344.5" r="7.5" fill="#000"/>
<circle cx="622.38" cy="1356.2" r="7.5" fill="#000"/>
<circle cx="622.38" cy="1372.7" r="7.5" fill="#000"/>
<circle cx="622.38" cy="1381.3" r="7.5" fill="#000"/>
<circle cx="622.38" cy="1404.7" r="7.5" fill="#000"/>
<circle cx="622.38" cy="1456.7" r="7.5" fill="#000"/>
<circle cx="622.38" cy="1483.6" r="7.5" fill="#000"/>
<circle cx="633.27" cy="1317.8" r="7.5" fill="#000"/>
<circle cx="633.27" cy="1356.2" r="7.5" fill="#000"/>
<circle cx="633.27" cy="1390.9" r="7.5" fill="#000"/>
<circle cx="633.27" cy="1409.2" r="7.5" fill="#000"/>
<circle cx="644.15" cy="1303.2" r="7.5" fill="#000"/>
<circle cx="655.04" cy="1410.1" r="7.5" fill="#000"/>
<circle cx="665.93" cy="1320" r="7.5" fill="#000"/>
<circle cx="665.93" cy="1342.9" r="7.5" fill="#000"/>
<circle cx="676.82" cy="1251.2" r="7.5" fill="#000"/>
<circle cx="676.82" cy="1283.4" r="7.5" fill="#000"/>
<circle cx="687.7" cy="1308.8" r="7.5" fill="#000"/>
<circle cx="687.7" cy="1354.6" r="7.5" fill="#000"/>
<circle cx="698.59" cy="1305" r="7.5" fill="#000"/>
<circle cx="709.48" cy="1297.6" r="7.5" fill="#000"/>
<circle cx="720.36" cy="1251.3" r="7.5" fill="#000"/>
<circle cx="731.25" cy="1246.4" r="7.5" fill="#000"/>
<circle cx="742.14" cy="1195.9" r="7.5" fill="#000"/>
<circle cx="753.02" cy="1195.9" r="7.5" fill="#000"/>
<circle cx="774.8" cy="1281.3" r="7.5" fill="#000"/>
<circle cx="774.8" cy="1324.5" r="7.5" fill="#000"/>
<circle cx="796.57" cy="1266.9" r="7.5" fill="#000"/>
<circle cx="818.35" cy="1296.3" r="7.5" fill="#000"/>
<circle cx="851.01" cy="1178.6" r="7.5" fill="#000"/>
<circle cx="851.01" cy="1192" r="7.5" fill="#000"/>
<circle cx="872.78" cy="1281.3" r="7.5" fill="#000"/>
<circle cx="883.67" cy="1265.6" r="7.5" fill="#000"/>
<line x1="157.2" y1="1735.6" x2="955.3" y2="1065.4" stroke="#000" stroke-width="2.5" stroke-dasharray="10.5,9.5" stroke-linecap="butt"/>
<line x1="186.9" y1="1065.4" x2="186.9" y2="1734.6" stroke="#d3d3d3" stroke-width="2" stroke-dasharray="3,6" stroke-linecap="butt"/>
<line x1="158.2" y1="1709.9" x2="955.3" y2="1709.9" stroke="#d3d3d3" stroke-width="2" stroke-dasharray="3,6" stroke-linecap="butt"/>
<line x1="295.77" y1="1065.4" x2="295.77" y2="1734.6" stroke="#d3d3d3" stroke-width="2" stroke-dasharray="3,6" stroke-linecap="butt"/>
<line x1="158.2" y1="1618.62" x2="955.3" y2="1618.62" stroke="#d3d3d3" stroke-width="2" stroke-dasharray="3,6" stroke-linecap="butt"/>
<line x1="404.64" y1="1065.4" x2="404.64" y2="1734.6" stroke="#d3d3d3" stroke-width="2" stroke-dasharray="3,6" stroke-linecap="butt"/>
<line x1="158.2" y1="1527.33" x2="955.3" y2="1527.33" stroke="#d3d3d3" stroke-width="2" stroke-dasharray="3,6" stroke-linecap="butt"/>
<line x1="513.51" y1="1065.4" x2="513.51" y2="1734.6" stroke="#d3d3d3" stroke-width="2" stroke-dasharray="3,6" stroke-linecap="butt"/>
<line x1="158.2" y1="1436.04" x2="955.3" y2="1436.04" stroke="#d3d3d3" stroke-width="2" stroke-dasharray="3,6" stroke-linecap="butt"/>
<line x1="622.38" y1="1065.4" x2="622.38" y2="1734.6" stroke="#d3d3d3" stroke-width="2" stroke-dasharray="3,6" stroke-linecap="butt"/>
<line x1="158.2" y1="1344.76" x2="955.3" y2="1344.76" stroke="#d3d3d3" stroke-width="2" stroke-dasharray="3,6" stroke-linecap="butt"/>
<line x1="731.25" y1="1065.4" x2="731.25" y2="1734.6" stroke="#d3d3d3" stroke-width="2" stroke-dasharray="3,6" stroke-linecap="butt"/>
<line x1="158.2" y1="1253.47" x2="955.3" y2="1253.47" stroke="#d3d3d3" stroke-width="2" stroke-dasharray="3,6" stroke-linecap="butt"/>
<line x1="840.12" y1="1065.4" x2="840.12" y2="1734.6" stroke="#d3d3d3" stroke-width="2" stroke-dasharray="3,6" stroke-linecap="butt"/>
<line x1="158.2" y1="1162.19" x2="955.3" y2="1162.19" stroke="#d3d3d3" stroke-width="2" stroke-dasharray="3,6" stroke-linecap="butt"/>
<line x1="948.99" y1="1065.4" x2="948.99" y2="1734.6" stroke="#d3d3d3" stroke-width="2" stroke-dasharray="3,6" stroke-linecap="butt"/>
<line x1="158.2" y1="1070.9" x2="955.3" y2="1070.9" stroke="#d3d3d3" stroke-width="2" stroke-dasharray="3,6" stroke-linecap="butt"/>
<rect x="157.2" y="1064.4" width="799.1" height="671.2" fill="none" stroke="#000" stroke-width="2"/>
<line x1="156.2" y1="1064.4" x2="956.3" y2="1064.4" stroke="#000" stroke-width="2.8" stroke-linecap="butt"/>
<line x1="956.4" y1="1063.4" x2="956.4" y2="1736.6" stroke="#000" stroke-width="2.8" stroke-linecap="butt"/>
<line x1="136" y1="1709.9" x2="157.2" y2="1709.9" stroke="#000" stroke-width="2" stroke-linecap="butt"/>
<line x1="186.9" y1="1735.6" x2="186.9" y2="1757.6" stroke="#000" stroke-width="2" stroke-linecap="butt"/>
<text x="93.16" y="1718.9" font-size="32" textLength="35.59" lengthAdjust="spacingAndGlyphs">20</text>
<text x="170.42" y="1793.6" font-size="32" textLength="35.59" lengthAdjust="spacingAndGlyphs">20</text>
<line x1="136" y1="1618.62" x2="157.2" y2="1618.62" stroke="#000" stroke-width="2" stroke-linecap="butt"/>
<line x1="295.77" y1="1735.6" x2="295.77" y2="1757.6" stroke="#000" stroke-width="2" stroke-linecap="butt"/>
<text x="93.16" y="1627.62" font-size="32" textLength="35.59" lengthAdjust="spacingAndGlyphs">30</text>
<text x="279.49" y="1793.6" font-size="32" textLength="35.59" lengthAdjust="spacingAndGlyphs">30</text>
<line x1="136" y1="1527.33" x2="157.2" y2="1527.33" stroke="#000" stroke-width="2" stroke-linecap="butt"/>
<line x1="404.64" y1="1735.6" x2="404.64" y2="1757.6" stroke="#000" stroke-width="2" stroke-linecap="butt"/>
<text x="93.16" y="1536.33" font-size="32" textLength="35.59" lengthAdjust="spacingAndGlyphs">40</text>
<text x="388.6" y="1793.6" font-size="32" textLength="35.59" lengthAdjust="spacingAndGlyphs">40</text>
<line x1="136" y1="1436.04" x2="157.2" y2="1436.04" stroke="#000" stroke-width="2" stroke-linecap="butt"/>
<line x1="513.51" y1="1735.6" x2="513.51" y2="1757.6" stroke="#000" stroke-width="2" stroke-linecap="butt"/>
<text x="93.16" y="1445.04" font-size="32" textLength="35.59" lengthAdjust="spacingAndGlyphs">50</text>
<text x="497.2" y="1793.6" font-size="32" textLength="35.59" lengthAdjust="spacingAndGlyphs">50</text>
<line x1="136" y1="1344.76" x2="157.2" y2="1344.76" stroke="#000" stroke-width="2" stroke-linecap="butt"/>
<line x1="622.38" y1="1735.6" x2="622.38" y2="1757.6" stroke="#000" stroke-width="2" stroke-linecap="butt"/>
<text x="93.16" y="1353.76" font-size="32" textLength="35.59" lengthAdjust="spacingAndGlyphs">60</text>
<text x="605.9" y="1793.6" font-size="32" textLength="35.59" lengthAdjust="spacingAndGlyphs">60</text>
<line x1="136" y1="1253.47" x2="157.2" y2="1253.47" stroke="#000" stroke-width="2" stroke-linecap="butt"/>
<line x1="731.25" y1="1735.6" x2="731.25" y2="1757.6" stroke="#000" stroke-width="2" stroke-linecap="butt"/>
<text x="93.16" y="1262.47" font-size="32" textLength="35.59" lengthAdjust="spacingAndGlyphs">70</text>
<text x="714.76" y="1793.6" font-size="32" textLength="35.59" lengthAdjust="spacingAndGlyphs">70</text>
<line x1="136" y1="1162.19" x2="157.2" y2="1162.19" stroke="#000" stroke-width="2" stroke-linecap="butt"/>
<line x1="840.12" y1="1735.6" x2="840.12" y2="1757.6" stroke="#000" stroke-width="2" stroke-linecap="butt"/>
<text x="93.16" y="1171.19" font-size="32" textLength="35.59" lengthAdjust="spacingAndGlyphs">80</text>
<text x="823.75" y="1793.6" font-size="32" textLength="35.59" lengthAdjust="spacingAndGlyphs">80</text>
<line x1="136" y1="1070.9" x2="157.2" y2="1070.9" stroke="#000" stroke-width="2" stroke-linecap="butt"/>
<line x1="948.99" y1="1735.6" x2="948.99" y2="1757.6" stroke="#000" stroke-width="2" stroke-linecap="butt"/>
<text x="93.16" y="1079.9" font-size="32" textLength="35.59" lengthAdjust="spacingAndGlyphs">90</text>
<text x="932.57" y="1793.6" font-size="32" textLength="35.59" lengthAdjust="spacingAndGlyphs">90</text>
<text x="528.83" y="1859.8" font-size="36.2" textLength="61.81" lengthAdjust="spacingAndGlyphs">Age</text>
<clipPath id="paclip"><rect x="0" y="1272.5" width="61.6" height="253.5"/></clipPath><g clip-path="url(#paclip)">
<text transform="translate(61.1,1506) rotate(-90)" x="-2.85" y="0" font-size="36.8" textLength="217.89" lengthAdjust="spacingAndGlyphs">Predicted Age</text>
</g>
<text x="0.06" y="999.9" font-size="34.5" font-weight="bold" textLength="25.22" lengthAdjust="spacingAndGlyphs">B</text>
<text x="634.07" y="1611.7" font-size="50.5" textLength="166.17" lengthAdjust="spacingAndGlyphs">r = 0.85</text>
<text x="484.98" y="1674.5" font-size="40.5" textLength="14.65" lengthAdjust="spacingAndGlyphs">r</text>
<text x="498.36" y="1661.5" font-size="22.6" textLength="12.57" lengthAdjust="spacingAndGlyphs">2</text>
<text x="523.04" y="1674.5" font-size="41" textLength="424.84" lengthAdjust="spacingAndGlyphs">= 0.67 ± 0.05, 5-fold CV</text>
<line x1="1195.2" y1="1188.8" x2="1499.3" y2="1188.8" stroke="#a8a8a8" stroke-width="1.8" stroke-dasharray="2.8,4.8" stroke-linecap="butt"/>
<circle cx="1243.4" cy="1266.31" r="4.6" fill="none" stroke="#000" stroke-width="1.9"/>
<circle cx="1279.18" cy="1298.51" r="4.6" fill="none" stroke="#000" stroke-width="1.9"/>
<circle cx="1236.45" cy="1230.01" r="4.6" fill="none" stroke="#000" stroke-width="1.9"/>
<circle cx="1224.11" cy="1214.19" r="4.6" fill="none" stroke="#000" stroke-width="1.9"/>
<circle cx="1205.52" cy="1190.34" r="4.6" fill="none" stroke="#000" stroke-width="1.9"/>
<circle cx="1255.79" cy="1247.99" r="4.6" fill="none" stroke="#000" stroke-width="1.9"/>
<circle cx="1295.78" cy="1278.74" r="4.6" fill="none" stroke="#000" stroke-width="1.9"/>
<circle cx="1267.37" cy="1235.45" r="4.6" fill="none" stroke="#000" stroke-width="1.9"/>
<circle cx="1292.03" cy="1246.56" r="4.6" fill="none" stroke="#000" stroke-width="1.9"/>
<circle cx="1242.82" cy="1183.42" r="4.6" fill="none" stroke="#000" stroke-width="1.9"/>
<circle cx="1295.78" cy="1244.51" r="4.6" fill="none" stroke="#000" stroke-width="1.9"/>
<circle cx="1290.52" cy="1217.23" r="4.6" fill="none" stroke="#000" stroke-width="1.9"/>
<circle cx="1238.2" cy="1150.12" r="4.6" fill="none" stroke="#000" stroke-width="1.9"/>
<circle cx="1216.86" cy="1115.91" r="4.6" fill="none" stroke="#000" stroke-width="1.9"/>
<circle cx="1265.85" cy="1171.9" r="4.6" fill="none" stroke="#000" stroke-width="1.9"/>
<circle cx="1311.27" cy="1216.47" r="4.6" fill="none" stroke="#000" stroke-width="1.9"/>
<circle cx="1370.83" cy="1286.03" r="4.6" fill="none" stroke="#000" stroke-width="1.9"/>
<circle cx="1324.01" cy="1225.97" r="4.6" fill="none" stroke="#000" stroke-width="1.9"/>
<circle cx="1286.6" cy="1177.98" r="4.6" fill="none" stroke="#000" stroke-width="1.9"/>
<circle cx="1343.07" cy="1243.57" r="4.6" fill="none" stroke="#000" stroke-width="1.9"/>
<circle cx="1332.78" cy="1230.37" r="4.6" fill="none" stroke="#000" stroke-width="1.9"/>
<circle cx="1330.91" cy="1221.13" r="4.6" fill="none" stroke="#000" stroke-width="1.9"/>
<circle cx="1306.24" cy="1189.49" r="4.6" fill="none" stroke="#000" stroke-width="1.9"/>
<circle cx="1298.52" cy="1179.59" r="4.6" fill="none" stroke="#000" stroke-width="1.9"/>
<circle cx="1291.33" cy="1170.37" r="4.6" fill="none" stroke="#000" stroke-width="1.9"/>
<circle cx="1321.9" cy="1202.74" r="4.6" fill="none" stroke="#000" stroke-width="1.9"/>
<circle cx="1258.42" cy="1114.46" r="4.6" fill="none" stroke="#000" stroke-width="1.9"/>
<circle cx="1357.74" cy="1235.01" r="4.6" fill="none" stroke="#000" stroke-width="1.9"/>
<circle cx="1394.8" cy="1268.86" r="4.6" fill="none" stroke="#000" stroke-width="1.9"/>
<circle cx="1384.86" cy="1256.12" r="4.6" fill="none" stroke="#000" stroke-width="1.9"/>
<circle cx="1366.62" cy="1225.88" r="4.6" fill="none" stroke="#000" stroke-width="1.9"/>
<circle cx="1332.48" cy="1182.08" r="4.6" fill="none" stroke="#000" stroke-width="1.9"/>
<circle cx="1386.91" cy="1245.05" r="4.6" fill="none" stroke="#000" stroke-width="1.9"/>
<circle cx="1366.62" cy="1219.03" r="4.6" fill="none" stroke="#000" stroke-width="1.9"/>
<circle cx="1315.94" cy="1154.02" r="4.6" fill="none" stroke="#000" stroke-width="1.9"/>
<circle cx="1371.42" cy="1218.33" r="4.6" fill="none" stroke="#000" stroke-width="1.9"/>
<circle cx="1417.42" cy="1270.5" r="4.6" fill="none" stroke="#000" stroke-width="1.9"/>
<circle cx="1404.97" cy="1254.53" r="4.6" fill="none" stroke="#000" stroke-width="1.9"/>
<circle cx="1365.51" cy="1203.92" r="4.6" fill="none" stroke="#000" stroke-width="1.9"/>
<circle cx="1348.03" cy="1174.65" r="4.6" fill="none" stroke="#000" stroke-width="1.9"/>
<circle cx="1326.81" cy="1147.43" r="4.6" fill="none" stroke="#000" stroke-width="1.9"/>
<circle cx="1433.43" cy="1277.36" r="4.6" fill="none" stroke="#000" stroke-width="1.9"/>
<circle cx="1384.39" cy="1214.45" r="4.6" fill="none" stroke="#000" stroke-width="1.9"/>
<circle cx="1375.04" cy="1202.45" r="4.6" fill="none" stroke="#000" stroke-width="1.9"/>
<circle cx="1317.64" cy="1128.81" r="4.6" fill="none" stroke="#000" stroke-width="1.9"/>
<circle cx="1401.23" cy="1229.2" r="4.6" fill="none" stroke="#000" stroke-width="1.9"/>
<circle cx="1395.61" cy="1222" r="4.6" fill="none" stroke="#000" stroke-width="1.9"/>
<circle cx="1332.08" cy="1140.49" r="4.6" fill="none" stroke="#000" stroke-width="1.9"/>
<circle cx="1428" cy="1256.69" r="4.6" fill="none" stroke="#000" stroke-width="1.9"/>
<circle cx="1308.05" cy="1102.83" r="4.6" fill="none" stroke="#000" stroke-width="1.9"/>
<circle cx="1436.01" cy="1260.12" r="4.6" fill="none" stroke="#000" stroke-width="1.9"/>
<circle cx="1399.36" cy="1213.11" r="4.6" fill="none" stroke="#000" stroke-width="1.9"/>
<circle cx="1391.52" cy="1203.06" r="4.6" fill="none" stroke="#000" stroke-width="1.9"/>
<circle cx="1371.01" cy="1176.74" r="4.6" fill="none" stroke="#000" stroke-width="1.9"/>
<circle cx="1365.98" cy="1170.29" r="4.6" fill="none" stroke="#000" stroke-width="1.9"/>
<circle cx="1348.03" cy="1147.27" r="4.6" fill="none" stroke="#000" stroke-width="1.9"/>
<circle cx="1315.83" cy="1105.95" r="4.6" fill="none" stroke="#000" stroke-width="1.9"/>
<circle cx="1391.23" cy="1195.84" r="4.6" fill="none" stroke="#000" stroke-width="1.9"/>
<circle cx="1384.39" cy="1180.22" r="4.6" fill="none" stroke="#000" stroke-width="1.9"/>
<circle cx="1374.75" cy="1167.85" r="4.6" fill="none" stroke="#000" stroke-width="1.9"/>
<circle cx="1369.72" cy="1161.4" r="4.6" fill="none" stroke="#000" stroke-width="1.9"/>
<circle cx="1356.04" cy="1143.85" r="4.6" fill="none" stroke="#000" stroke-width="1.9"/>
<circle cx="1325.65" cy="1104.86" r="4.6" fill="none" stroke="#000" stroke-width="1.9"/>
<circle cx="1309.92" cy="1084.69" r="4.6" fill="none" stroke="#000" stroke-width="1.9"/>
<circle cx="1406.84" cy="1202.17" r="4.6" fill="none" stroke="#000" stroke-width="1.9"/>
<circle cx="1384.39" cy="1173.38" r="4.6" fill="none" stroke="#000" stroke-width="1.9"/>
<circle cx="1364.11" cy="1147.36" r="4.6" fill="none" stroke="#000" stroke-width="1.9"/>
<circle cx="1353.41" cy="1133.63" r="4.6" fill="none" stroke="#000" stroke-width="1.9"/>
<circle cx="1415.37" cy="1206.27" r="4.6" fill="none" stroke="#000" stroke-width="1.9"/>
<circle cx="1352.89" cy="1119.27" r="4.6" fill="none" stroke="#000" stroke-width="1.9"/>
<circle cx="1405.55" cy="1179.98" r="4.6" fill="none" stroke="#000" stroke-width="1.9"/>
<circle cx="1392.17" cy="1162.81" r="4.6" fill="none" stroke="#000" stroke-width="1.9"/>
<circle cx="1445.77" cy="1224.73" r="4.6" fill="none" stroke="#000" stroke-width="1.9"/>
<circle cx="1426.95" cy="1200.58" r="4.6" fill="none" stroke="#000" stroke-width="1.9"/>
<circle cx="1412.1" cy="1174.69" r="4.6" fill="none" stroke="#000" stroke-width="1.9"/>
<circle cx="1385.33" cy="1140.35" r="4.6" fill="none" stroke="#000" stroke-width="1.9"/>
<circle cx="1414.32" cy="1170.7" r="4.6" fill="none" stroke="#000" stroke-width="1.9"/>
<circle cx="1418.65" cy="1169.4" r="4.6" fill="none" stroke="#000" stroke-width="1.9"/>
<circle cx="1445.71" cy="1197.27" r="4.6" fill="none" stroke="#000" stroke-width="1.9"/>
<circle cx="1448.57" cy="1194.1" r="4.6" fill="none" stroke="#000" stroke-width="1.9"/>
<circle cx="1478.09" cy="1225.12" r="4.6" fill="none" stroke="#000" stroke-width="1.9"/>
<circle cx="1478.09" cy="1218.28" r="4.6" fill="none" stroke="#000" stroke-width="1.9"/>
<circle cx="1428.17" cy="1140.55" r="4.6" fill="none" stroke="#000" stroke-width="1.9"/>
<circle cx="1402.92" cy="1108.16" r="4.6" fill="none" stroke="#000" stroke-width="1.9"/>
<circle cx="1436.59" cy="1137.66" r="4.6" fill="none" stroke="#000" stroke-width="1.9"/>
<circle cx="1419.41" cy="1101.93" r="4.6" fill="none" stroke="#000" stroke-width="1.9"/>
<circle cx="1488.21" cy="1169.65" r="4.6" fill="none" stroke="#000" stroke-width="1.9"/>
<circle cx="1480.37" cy="1159.6" r="4.6" fill="none" stroke="#000" stroke-width="1.9"/>
<circle cx="1428.17" cy="1078.95" r="4.6" fill="none" stroke="#000" stroke-width="1.9"/>
<circle cx="1437.35" cy="1083.88" r="4.6" fill="none" stroke="#000" stroke-width="1.9"/>
<polyline fill="none" points="1206,1205.1 1226.4,1201.9 1250,1198 1265.7,1194.9 1289.3,1192.5 1306.5,1189.4 1320.7,1184.2 1328.5,1180.7 1340.3,1178 1345,1178 1356.8,1180.7 1368.6,1186.6 1380.3,1190.9 1396.1,1192.9 1415.7,1194.9 1435.3,1194.5 1455,1194.2 1478.5,1193.7 1488.8,1193.4" stroke="#ff0000" stroke-width="2.3" stroke-linejoin="round"/>
<rect x="1194.2" y="1051" width="306.1" height="275.8" fill="none" stroke="#000" stroke-width="1.9"/>
<line x1="1179.7" y1="1051.9" x2="1194.2" y2="1051.9" stroke="#000" stroke-width="1.8" stroke-linecap="butt"/>
<text x="1144.9" y="1058.9" font-size="26" textLength="28.92" lengthAdjust="spacingAndGlyphs">20</text>
<line x1="1179.7" y1="1120.35" x2="1194.2" y2="1120.35" stroke="#000" stroke-width="1.8" stroke-linecap="butt"/>
<text x="1144.9" y="1127.35" font-size="26" textLength="28.92" lengthAdjust="spacingAndGlyphs">10</text>
<line x1="1179.7" y1="1188.8" x2="1194.2" y2="1188.8" stroke="#000" stroke-width="1.8" stroke-linecap="butt"/>
<text x="1159.36" y="1195.8" font-size="26" textLength="14.46" lengthAdjust="spacingAndGlyphs">0</text>
<line x1="1179.7" y1="1257.25" x2="1194.2" y2="1257.25" stroke="#000" stroke-width="1.8" stroke-linecap="butt"/>
<text x="1136.24" y="1264.25" font-size="26" textLength="37.58" lengthAdjust="spacingAndGlyphs">-10</text>
<line x1="1179.7" y1="1325.7" x2="1194.2" y2="1325.7" stroke="#000" stroke-width="1.8" stroke-linecap="butt"/>
<text x="1136.24" y="1332.7" font-size="26" textLength="37.58" lengthAdjust="spacingAndGlyphs">-20</text>
<line x1="1231" y1="1326.8" x2="1231" y2="1342.3" stroke="#000" stroke-width="1.8" stroke-linecap="butt"/>
<text x="1216.55" y="1367.5" font-size="26" textLength="28.92" lengthAdjust="spacingAndGlyphs">30</text>
<line x1="1284.36" y1="1326.8" x2="1284.36" y2="1342.3" stroke="#000" stroke-width="1.8" stroke-linecap="butt"/>
<text x="1270.11" y="1367.5" font-size="26" textLength="28.92" lengthAdjust="spacingAndGlyphs">40</text>
<line x1="1337.72" y1="1326.8" x2="1337.72" y2="1342.3" stroke="#000" stroke-width="1.8" stroke-linecap="butt"/>
<text x="1323.25" y="1367.5" font-size="26" textLength="28.92" lengthAdjust="spacingAndGlyphs">50</text>
<line x1="1391.08" y1="1326.8" x2="1391.08" y2="1342.3" stroke="#000" stroke-width="1.8" stroke-linecap="butt"/>
<text x="1376.47" y="1367.5" font-size="26" textLength="28.92" lengthAdjust="spacingAndGlyphs">60</text>
<line x1="1444.44" y1="1326.8" x2="1444.44" y2="1342.3" stroke="#000" stroke-width="1.8" stroke-linecap="butt"/>
<text x="1429.82" y="1367.5" font-size="26" textLength="28.92" lengthAdjust="spacingAndGlyphs">70</text>
<line x1="1497.8" y1="1326.8" x2="1497.8" y2="1342.3" stroke="#000" stroke-width="1.8" stroke-linecap="butt"/>
<text x="1483.28" y="1367.5" font-size="26" textLength="28.92" lengthAdjust="spacingAndGlyphs">80</text>
<text x="1215.25" y="1039.1" font-size="31.5" textLength="262.86" lengthAdjust="spacingAndGlyphs">Residuals vs Fitted</text>
<text x="1267.53" y="1411" font-size="28.8" textLength="156.97" lengthAdjust="spacingAndGlyphs">Fitted values</text>
<text transform="translate(1125.8,1248.5) rotate(-90)" x="-2.28" y="0" font-size="28.8" textLength="121.98" lengthAdjust="spacingAndGlyphs">Residuals</text>
<text x="1400.68" y="1086.2" font-size="19" textLength="20.45" lengthAdjust="spacingAndGlyphs">42</text>
<text x="1406.89" y="1089.5" font-size="19" textLength="22.11" lengthAdjust="spacingAndGlyphs">62</text>
<text x="1286.67" y="1313" font-size="19" textLength="31.26" lengthAdjust="spacingAndGlyphs">100</text>
<clipPath id="qc923"><rect x="1670.8" y="1051.1" width="306.10000000000014" height="275.8000000000002"/></clipPath>
<g clip-path="url(#qc923)">
<line x1="1679.61" y1="1347.09" x2="1974.66" y2="1041.8" stroke="#a0a0a0" stroke-width="1.8" stroke-dasharray="2.8,4.8" stroke-linecap="butt"/>
</g>
<circle cx="1682.96" cy="1315.03" r="4.6" fill="none" stroke="#000" stroke-width="1.9"/>
<circle cx="1705.64" cy="1301.66" r="4.6" fill="none" stroke="#000" stroke-width="1.9"/>
<circle cx="1717.42" cy="1293.85" r="4.6" fill="none" stroke="#000" stroke-width="1.9"/>
<circle cx="1725.73" cy="1292.37" r="4.6" fill="none" stroke="#000" stroke-width="1.9"/>
<circle cx="1732.29" cy="1285.02" r="4.6" fill="none" stroke="#000" stroke-width="1.9"/>
<circle cx="1737.76" cy="1283.27" r="4.6" fill="none" stroke="#000" stroke-width="1.9"/>
<circle cx="1742.51" cy="1280.54" r="4.6" fill="none" stroke="#000" stroke-width="1.9"/>
<circle cx="1746.73" cy="1273.9" r="4.6" fill="none" stroke="#000" stroke-width="1.9"/>
<circle cx="1750.54" cy="1270.23" r="4.6" fill="none" stroke="#000" stroke-width="1.9"/>
<circle cx="1754.03" cy="1269.61" r="4.6" fill="none" stroke="#000" stroke-width="1.9"/>
<circle cx="1757.27" cy="1267.91" r="4.6" fill="none" stroke="#000" stroke-width="1.9"/>
<circle cx="1760.3" cy="1260.9" r="4.6" fill="none" stroke="#000" stroke-width="1.9"/>
<circle cx="1763.14" cy="1259.38" r="4.6" fill="none" stroke="#000" stroke-width="1.9"/>
<circle cx="1765.84" cy="1257.76" r="4.6" fill="none" stroke="#000" stroke-width="1.9"/>
<circle cx="1768.41" cy="1257.19" r="4.6" fill="none" stroke="#000" stroke-width="1.9"/>
<circle cx="1770.86" cy="1256.18" r="4.6" fill="none" stroke="#000" stroke-width="1.9"/>
<circle cx="1773.21" cy="1247.48" r="4.6" fill="none" stroke="#000" stroke-width="1.9"/>
<circle cx="1775.48" cy="1247.01" r="4.6" fill="none" stroke="#000" stroke-width="1.9"/>
<circle cx="1777.67" cy="1242.04" r="4.6" fill="none" stroke="#000" stroke-width="1.9"/>
<circle cx="1779.79" cy="1241.65" r="4.6" fill="none" stroke="#000" stroke-width="1.9"/>
<circle cx="1781.85" cy="1240.77" r="4.6" fill="none" stroke="#000" stroke-width="1.9"/>
<circle cx="1783.85" cy="1237.32" r="4.6" fill="none" stroke="#000" stroke-width="1.9"/>
<circle cx="1785.8" cy="1237.22" r="4.6" fill="none" stroke="#000" stroke-width="1.9"/>
<circle cx="1787.71" cy="1236.41" r="4.6" fill="none" stroke="#000" stroke-width="1.9"/>
<circle cx="1789.57" cy="1235.99" r="4.6" fill="none" stroke="#000" stroke-width="1.9"/>
<circle cx="1791.4" cy="1233.06" r="4.6" fill="none" stroke="#000" stroke-width="1.9"/>
<circle cx="1793.19" cy="1232.13" r="4.6" fill="none" stroke="#000" stroke-width="1.9"/>
<circle cx="1794.96" cy="1229.88" r="4.6" fill="none" stroke="#000" stroke-width="1.9"/>
<circle cx="1796.69" cy="1229.14" r="4.6" fill="none" stroke="#000" stroke-width="1.9"/>
<circle cx="1798.4" cy="1229.08" r="4.6" fill="none" stroke="#000" stroke-width="1.9"/>
<circle cx="1800.09" cy="1227.96" r="4.6" fill="none" stroke="#000" stroke-width="1.9"/>
<circle cx="1801.75" cy="1227.14" r="4.6" fill="none" stroke="#000" stroke-width="1.9"/>
<circle cx="1803.39" cy="1224.97" r="4.6" fill="none" stroke="#000" stroke-width="1.9"/>
<circle cx="1805.02" cy="1224.7" r="4.6" fill="none" stroke="#000" stroke-width="1.9"/>
<circle cx="1806.63" cy="1223.54" r="4.6" fill="none" stroke="#000" stroke-width="1.9"/>
<circle cx="1808.23" cy="1216.22" r="4.6" fill="none" stroke="#000" stroke-width="1.9"/>
<circle cx="1809.82" cy="1213.69" r="4.6" fill="none" stroke="#000" stroke-width="1.9"/>
<circle cx="1811.39" cy="1212.77" r="4.6" fill="none" stroke="#000" stroke-width="1.9"/>
<circle cx="1812.96" cy="1212.43" r="4.6" fill="none" stroke="#000" stroke-width="1.9"/>
<circle cx="1814.52" cy="1212.12" r="4.6" fill="none" stroke="#000" stroke-width="1.9"/>
<circle cx="1816.07" cy="1211.82" r="4.6" fill="none" stroke="#000" stroke-width="1.9"/>
<circle cx="1817.62" cy="1210.12" r="4.6" fill="none" stroke="#000" stroke-width="1.9"/>
<circle cx="1819.16" cy="1206.58" r="4.6" fill="none" stroke="#000" stroke-width="1.9"/>
<circle cx="1820.7" cy="1205.04" r="4.6" fill="none" stroke="#000" stroke-width="1.9"/>
<circle cx="1822.23" cy="1203.18" r="4.6" fill="none" stroke="#000" stroke-width="1.9"/>
<circle cx="1823.77" cy="1199.15" r="4.6" fill="none" stroke="#000" stroke-width="1.9"/>
<circle cx="1825.3" cy="1198.24" r="4.6" fill="none" stroke="#000" stroke-width="1.9"/>
<circle cx="1826.84" cy="1191.74" r="4.6" fill="none" stroke="#000" stroke-width="1.9"/>
<circle cx="1828.38" cy="1190.31" r="4.6" fill="none" stroke="#000" stroke-width="1.9"/>
<circle cx="1829.93" cy="1188.31" r="4.6" fill="none" stroke="#000" stroke-width="1.9"/>
<circle cx="1831.48" cy="1188.06" r="4.6" fill="none" stroke="#000" stroke-width="1.9"/>
<circle cx="1833.04" cy="1187.63" r="4.6" fill="none" stroke="#000" stroke-width="1.9"/>
<circle cx="1834.61" cy="1185.91" r="4.6" fill="none" stroke="#000" stroke-width="1.9"/>
<circle cx="1836.18" cy="1184.58" r="4.6" fill="none" stroke="#000" stroke-width="1.9"/>
<circle cx="1837.77" cy="1182.39" r="4.6" fill="none" stroke="#000" stroke-width="1.9"/>
<circle cx="1839.37" cy="1182.34" r="4.6" fill="none" stroke="#000" stroke-width="1.9"/>
<circle cx="1840.98" cy="1180.98" r="4.6" fill="none" stroke="#000" stroke-width="1.9"/>
<circle cx="1842.61" cy="1179.39" r="4.6" fill="none" stroke="#000" stroke-width="1.9"/>
<circle cx="1844.25" cy="1178.11" r="4.6" fill="none" stroke="#000" stroke-width="1.9"/>
<circle cx="1845.91" cy="1177.75" r="4.6" fill="none" stroke="#000" stroke-width="1.9"/>
<circle cx="1847.6" cy="1177.67" r="4.6" fill="none" stroke="#000" stroke-width="1.9"/>
<circle cx="1849.31" cy="1176.98" r="4.6" fill="none" stroke="#000" stroke-width="1.9"/>
<circle cx="1851.04" cy="1176.72" r="4.6" fill="none" stroke="#000" stroke-width="1.9"/>
<circle cx="1852.81" cy="1175.05" r="4.6" fill="none" stroke="#000" stroke-width="1.9"/>
<circle cx="1854.6" cy="1169.66" r="4.6" fill="none" stroke="#000" stroke-width="1.9"/>
<circle cx="1856.43" cy="1168.15" r="4.6" fill="none" stroke="#000" stroke-width="1.9"/>
<circle cx="1858.29" cy="1166.22" r="4.6" fill="none" stroke="#000" stroke-width="1.9"/>
<circle cx="1860.2" cy="1160.24" r="4.6" fill="none" stroke="#000" stroke-width="1.9"/>
<circle cx="1862.15" cy="1156.06" r="4.6" fill="none" stroke="#000" stroke-width="1.9"/>
<circle cx="1864.15" cy="1153.18" r="4.6" fill="none" stroke="#000" stroke-width="1.9"/>
<circle cx="1866.21" cy="1153.1" r="4.6" fill="none" stroke="#000" stroke-width="1.9"/>
<circle cx="1868.33" cy="1153.01" r="4.6" fill="none" stroke="#000" stroke-width="1.9"/>
<circle cx="1870.52" cy="1149.35" r="4.6" fill="none" stroke="#000" stroke-width="1.9"/>
<circle cx="1872.79" cy="1145.81" r="4.6" fill="none" stroke="#000" stroke-width="1.9"/>
<circle cx="1875.14" cy="1145.75" r="4.6" fill="none" stroke="#000" stroke-width="1.9"/>
<circle cx="1877.59" cy="1145.6" r="4.6" fill="none" stroke="#000" stroke-width="1.9"/>
<circle cx="1880.16" cy="1142.72" r="4.6" fill="none" stroke="#000" stroke-width="1.9"/>
<circle cx="1882.86" cy="1138.4" r="4.6" fill="none" stroke="#000" stroke-width="1.9"/>
<circle cx="1885.7" cy="1133.24" r="4.6" fill="none" stroke="#000" stroke-width="1.9"/>
<circle cx="1888.73" cy="1123.01" r="4.6" fill="none" stroke="#000" stroke-width="1.9"/>
<circle cx="1891.97" cy="1119.41" r="4.6" fill="none" stroke="#000" stroke-width="1.9"/>
<circle cx="1895.46" cy="1117.86" r="4.6" fill="none" stroke="#000" stroke-width="1.9"/>
<circle cx="1899.27" cy="1111.11" r="4.6" fill="none" stroke="#000" stroke-width="1.9"/>
<circle cx="1903.49" cy="1108.75" r="4.6" fill="none" stroke="#000" stroke-width="1.9"/>
<circle cx="1908.24" cy="1107.58" r="4.6" fill="none" stroke="#000" stroke-width="1.9"/>
<circle cx="1913.71" cy="1105.4" r="4.6" fill="none" stroke="#000" stroke-width="1.9"/>
<circle cx="1920.27" cy="1104.43" r="4.6" fill="none" stroke="#000" stroke-width="1.9"/>
<circle cx="1928.58" cy="1085.97" r="4.6" fill="none" stroke="#000" stroke-width="1.9"/>
<circle cx="1940.36" cy="1085.1" r="4.6" fill="none" stroke="#000" stroke-width="1.9"/>
<circle cx="1963.04" cy="1079.82" r="4.6" fill="none" stroke="#000" stroke-width="1.9"/>
<rect x="1670.8" y="1051.1" width="306.1" height="275.8" fill="none" stroke="#000" stroke-width="1.9"/>
<line x1="1656.3" y1="1090" x2="1670.8" y2="1090" stroke="#000" stroke-width="1.8" stroke-linecap="butt"/>
<text x="1637.45" y="1096.2" font-size="26" textLength="14.46" lengthAdjust="spacingAndGlyphs">2</text>
<line x1="1656.3" y1="1143.75" x2="1670.8" y2="1143.75" stroke="#000" stroke-width="1.8" stroke-linecap="butt"/>
<text x="1637.41" y="1149.95" font-size="26" textLength="14.46" lengthAdjust="spacingAndGlyphs">1</text>
<line x1="1656.3" y1="1197.5" x2="1670.8" y2="1197.5" stroke="#000" stroke-width="1.8" stroke-linecap="butt"/>
<text x="1637.16" y="1203.7" font-size="26" textLength="14.46" lengthAdjust="spacingAndGlyphs">0</text>
<line x1="1656.3" y1="1251.25" x2="1670.8" y2="1251.25" stroke="#000" stroke-width="1.8" stroke-linecap="butt"/>
<text x="1628.75" y="1257.45" font-size="26" textLength="23.12" lengthAdjust="spacingAndGlyphs">-1</text>
<line x1="1656.3" y1="1305" x2="1670.8" y2="1305" stroke="#000" stroke-width="1.8" stroke-linecap="butt"/>
<text x="1628.79" y="1311.2" font-size="26" textLength="23.12" lengthAdjust="spacingAndGlyphs">-2</text>
<line x1="1712.7" y1="1326.9" x2="1712.7" y2="1342.4" stroke="#000" stroke-width="1.8" stroke-linecap="butt"/>
<text x="1701.22" y="1368" font-size="26" textLength="23.12" lengthAdjust="spacingAndGlyphs">-2</text>
<line x1="1767.85" y1="1326.9" x2="1767.85" y2="1342.4" stroke="#000" stroke-width="1.8" stroke-linecap="butt"/>
<text x="1756.35" y="1368" font-size="26" textLength="23.12" lengthAdjust="spacingAndGlyphs">-1</text>
<line x1="1823" y1="1326.9" x2="1823" y2="1342.4" stroke="#000" stroke-width="1.8" stroke-linecap="butt"/>
<text x="1815.77" y="1368" font-size="26" textLength="14.46" lengthAdjust="spacingAndGlyphs">0</text>
<line x1="1878.15" y1="1326.9" x2="1878.15" y2="1342.4" stroke="#000" stroke-width="1.8" stroke-linecap="butt"/>
<text x="1870.56" y="1368" font-size="26" textLength="14.46" lengthAdjust="spacingAndGlyphs">1</text>
<line x1="1933.3" y1="1326.9" x2="1933.3" y2="1342.4" stroke="#000" stroke-width="1.8" stroke-linecap="butt"/>
<text x="1926.07" y="1368" font-size="26" textLength="14.46" lengthAdjust="spacingAndGlyphs">2</text>
<text x="1710.14" y="1039.1" font-size="31.5" textLength="226.78" lengthAdjust="spacingAndGlyphs">Normal Q-Q plot</text>
<text x="1695.88" y="1410.8" font-size="28.8" textLength="255.82" lengthAdjust="spacingAndGlyphs">Theoretical quantiles</text>
<text transform="translate(1611,1328.1) rotate(-90)" x="-1.25" y="0" font-size="28.6" textLength="281.05" lengthAdjust="spacingAndGlyphs">Standardized residuals</text>
<text x="1913.95" y="1090.7" font-size="19" textLength="20.9" lengthAdjust="spacingAndGlyphs">62</text>
<text x="1935.65" y="1086.2" font-size="19" textLength="22.05" lengthAdjust="spacingAndGlyphs">42</text>
<text x="1690.6" y="1323.6" font-size="19" textLength="30.61" lengthAdjust="spacingAndGlyphs">100</text>
<circle cx="1243.4" cy="1542.65" r="4.6" fill="none" stroke="#000" stroke-width="1.9"/>
<circle cx="1279.18" cy="1502.25" r="4.6" fill="none" stroke="#000" stroke-width="1.9"/>
<circle cx="1236.45" cy="1600.33" r="4.6" fill="none" stroke="#000" stroke-width="1.9"/>
<circle cx="1224.11" cy="1633.72" r="4.6" fill="none" stroke="#000" stroke-width="1.9"/>
<circle cx="1205.52" cy="1725.55" r="4.6" fill="none" stroke="#000" stroke-width="1.9"/>
<circle cx="1255.79" cy="1569.52" r="4.6" fill="none" stroke="#000" stroke-width="1.9"/>
<circle cx="1295.78" cy="1526.21" r="4.6" fill="none" stroke="#000" stroke-width="1.9"/>
<circle cx="1267.37" cy="1590.39" r="4.6" fill="none" stroke="#000" stroke-width="1.9"/>
<circle cx="1292.03" cy="1571.77" r="4.6" fill="none" stroke="#000" stroke-width="1.9"/>
<circle cx="1242.82" cy="1699.52" r="4.6" fill="none" stroke="#000" stroke-width="1.9"/>
<circle cx="1295.78" cy="1575.06" r="4.6" fill="none" stroke="#000" stroke-width="1.9"/>
<circle cx="1290.52" cy="1626.63" r="4.6" fill="none" stroke="#000" stroke-width="1.9"/>
<circle cx="1238.2" cy="1605.17" r="4.6" fill="none" stroke="#000" stroke-width="1.9"/>
<circle cx="1216.86" cy="1549.09" r="4.6" fill="none" stroke="#000" stroke-width="1.9"/>
<circle cx="1265.85" cy="1656.16" r="4.6" fill="none" stroke="#000" stroke-width="1.9"/>
<circle cx="1311.27" cy="1628.37" r="4.6" fill="none" stroke="#000" stroke-width="1.9"/>
<circle cx="1370.83" cy="1517.09" r="4.6" fill="none" stroke="#000" stroke-width="1.9"/>
<circle cx="1324.01" cy="1608.13" r="4.6" fill="none" stroke="#000" stroke-width="1.9"/>
<circle cx="1286.6" cy="1676.04" r="4.6" fill="none" stroke="#000" stroke-width="1.9"/>
<circle cx="1343.07" cy="1576.59" r="4.6" fill="none" stroke="#000" stroke-width="1.9"/>
<circle cx="1332.78" cy="1599.64" r="4.6" fill="none" stroke="#000" stroke-width="1.9"/>
<circle cx="1330.91" cy="1618.07" r="4.6" fill="none" stroke="#000" stroke-width="1.9"/>
<circle cx="1306.24" cy="1735.56" r="4.6" fill="none" stroke="#000" stroke-width="1.9"/>
<circle cx="1298.52" cy="1682.19" r="4.6" fill="none" stroke="#000" stroke-width="1.9"/>
<circle cx="1291.33" cy="1651.75" r="4.6" fill="none" stroke="#000" stroke-width="1.9"/>
<circle cx="1321.9" cy="1665.3" r="4.6" fill="none" stroke="#000" stroke-width="1.9"/>
<circle cx="1258.42" cy="1547.05" r="4.6" fill="none" stroke="#000" stroke-width="1.9"/>
<circle cx="1357.74" cy="1591.17" r="4.6" fill="none" stroke="#000" stroke-width="1.9"/>
<circle cx="1394.8" cy="1539.17" r="4.6" fill="none" stroke="#000" stroke-width="1.9"/>
<circle cx="1384.86" cy="1557.15" r="4.6" fill="none" stroke="#000" stroke-width="1.9"/>
<circle cx="1366.62" cy="1608.32" r="4.6" fill="none" stroke="#000" stroke-width="1.9"/>
<circle cx="1332.48" cy="1692.92" r="4.6" fill="none" stroke="#000" stroke-width="1.9"/>
<circle cx="1386.91" cy="1574.19" r="4.6" fill="none" stroke="#000" stroke-width="1.9"/>
<circle cx="1366.62" cy="1622.61" r="4.6" fill="none" stroke="#000" stroke-width="1.9"/>
<circle cx="1315.94" cy="1612.95" r="4.6" fill="none" stroke="#000" stroke-width="1.9"/>
<circle cx="1371.42" cy="1624.15" r="4.6" fill="none" stroke="#000" stroke-width="1.9"/>
<circle cx="1417.42" cy="1536.97" r="4.6" fill="none" stroke="#000" stroke-width="1.9"/>
<circle cx="1404.97" cy="1559.5" r="4.6" fill="none" stroke="#000" stroke-width="1.9"/>
<circle cx="1365.51" cy="1661.56" r="4.6" fill="none" stroke="#000" stroke-width="1.9"/>
<circle cx="1348.03" cy="1664.61" r="4.6" fill="none" stroke="#000" stroke-width="1.9"/>
<circle cx="1326.81" cy="1600.03" r="4.6" fill="none" stroke="#000" stroke-width="1.9"/>
<circle cx="1433.43" cy="1527.98" r="4.6" fill="none" stroke="#000" stroke-width="1.9"/>
<circle cx="1384.39" cy="1633.11" r="4.6" fill="none" stroke="#000" stroke-width="1.9"/>
<circle cx="1375.04" cy="1666.24" r="4.6" fill="none" stroke="#000" stroke-width="1.9"/>
<circle cx="1317.64" cy="1568.26" r="4.6" fill="none" stroke="#000" stroke-width="1.9"/>
<circle cx="1401.23" cy="1601.87" r="4.6" fill="none" stroke="#000" stroke-width="1.9"/>
<circle cx="1395.61" cy="1616.24" r="4.6" fill="none" stroke="#000" stroke-width="1.9"/>
<circle cx="1332.08" cy="1587.48" r="4.6" fill="none" stroke="#000" stroke-width="1.9"/>
<circle cx="1428" cy="1556.3" r="4.6" fill="none" stroke="#000" stroke-width="1.9"/>
<circle cx="1308.05" cy="1531.33" r="4.6" fill="none" stroke="#000" stroke-width="1.9"/>
<circle cx="1436.01" cy="1551.33" r="4.6" fill="none" stroke="#000" stroke-width="1.9"/>
<circle cx="1399.36" cy="1636.35" r="4.6" fill="none" stroke="#000" stroke-width="1.9"/>
<circle cx="1391.52" cy="1664.27" r="4.6" fill="none" stroke="#000" stroke-width="1.9"/>
<circle cx="1371.01" cy="1671.6" r="4.6" fill="none" stroke="#000" stroke-width="1.9"/>
<circle cx="1365.98" cy="1651.54" r="4.6" fill="none" stroke="#000" stroke-width="1.9"/>
<circle cx="1348.03" cy="1599.73" r="4.6" fill="none" stroke="#000" stroke-width="1.9"/>
<circle cx="1315.83" cy="1535.44" r="4.6" fill="none" stroke="#000" stroke-width="1.9"/>
<circle cx="1391.23" cy="1691.43" r="4.6" fill="none" stroke="#000" stroke-width="1.9"/>
<circle cx="1384.39" cy="1684.75" r="4.6" fill="none" stroke="#000" stroke-width="1.9"/>
<circle cx="1374.75" cy="1644.88" r="4.6" fill="none" stroke="#000" stroke-width="1.9"/>
<circle cx="1369.72" cy="1628.99" r="4.6" fill="none" stroke="#000" stroke-width="1.9"/>
<circle cx="1356.04" cy="1593.44" r="4.6" fill="none" stroke="#000" stroke-width="1.9"/>
<circle cx="1325.65" cy="1534" r="4.6" fill="none" stroke="#000" stroke-width="1.9"/>
<circle cx="1309.92" cy="1508.8" r="4.6" fill="none" stroke="#000" stroke-width="1.9"/>
<circle cx="1406.84" cy="1667.16" r="4.6" fill="none" stroke="#000" stroke-width="1.9"/>
<circle cx="1384.39" cy="1660.6" r="4.6" fill="none" stroke="#000" stroke-width="1.9"/>
<circle cx="1364.11" cy="1599.89" r="4.6" fill="none" stroke="#000" stroke-width="1.9"/>
<circle cx="1353.41" cy="1575.95" r="4.6" fill="none" stroke="#000" stroke-width="1.9"/>
<circle cx="1415.37" cy="1654.5" r="4.6" fill="none" stroke="#000" stroke-width="1.9"/>
<circle cx="1352.89" cy="1553.91" r="4.6" fill="none" stroke="#000" stroke-width="1.9"/>
<circle cx="1405.55" cy="1683.78" r="4.6" fill="none" stroke="#000" stroke-width="1.9"/>
<circle cx="1392.17" cy="1632.3" r="4.6" fill="none" stroke="#000" stroke-width="1.9"/>
<circle cx="1445.77" cy="1610.62" r="4.6" fill="none" stroke="#000" stroke-width="1.9"/>
<circle cx="1426.95" cy="1672.57" r="4.6" fill="none" stroke="#000" stroke-width="1.9"/>
<circle cx="1412.1" cy="1664.75" r="4.6" fill="none" stroke="#000" stroke-width="1.9"/>
<circle cx="1385.33" cy="1587.24" r="4.6" fill="none" stroke="#000" stroke-width="1.9"/>
<circle cx="1414.32" cy="1652.69" r="4.6" fill="none" stroke="#000" stroke-width="1.9"/>
<circle cx="1418.65" cy="1649.07" r="4.6" fill="none" stroke="#000" stroke-width="1.9"/>
<circle cx="1445.71" cy="1685.19" r="4.6" fill="none" stroke="#000" stroke-width="1.9"/>
<circle cx="1448.57" cy="1699.9" r="4.6" fill="none" stroke="#000" stroke-width="1.9"/>
<circle cx="1478.09" cy="1609.82" r="4.6" fill="none" stroke="#000" stroke-width="1.9"/>
<circle cx="1478.09" cy="1624.27" r="4.6" fill="none" stroke="#000" stroke-width="1.9"/>
<circle cx="1428.17" cy="1587.59" r="4.6" fill="none" stroke="#000" stroke-width="1.9"/>
<circle cx="1402.92" cy="1538.4" r="4.6" fill="none" stroke="#000" stroke-width="1.9"/>
<circle cx="1436.59" cy="1582.63" r="4.6" fill="none" stroke="#000" stroke-width="1.9"/>
<circle cx="1419.41" cy="1530.16" r="4.6" fill="none" stroke="#000" stroke-width="1.9"/>
<circle cx="1488.21" cy="1649.74" r="4.6" fill="none" stroke="#000" stroke-width="1.9"/>
<circle cx="1480.37" cy="1624.9" r="4.6" fill="none" stroke="#000" stroke-width="1.9"/>
<circle cx="1428.17" cy="1502.09" r="4.6" fill="none" stroke="#000" stroke-width="1.9"/>
<circle cx="1437.35" cy="1507.84" r="4.6" fill="none" stroke="#000" stroke-width="1.9"/>
<polyline fill="none" points="1206,1611.6 1226.4,1608.6 1250,1604.2 1267.3,1601.1 1289.3,1598 1305,1597.6 1316.8,1599.9 1328.5,1603.1 1340.3,1606.6 1345,1607.7 1356.8,1613.2 1364.6,1616.7 1374.9,1621.4 1388.2,1621.4 1400,1616.7 1411.8,1612.8 1435.3,1612.8 1447.1,1611.6 1462.8,1610.8 1478.5,1609.6 1488.8,1610" stroke="#ff0000" stroke-width="2.3" stroke-linejoin="round"/>
<rect x="1194.2" y="1489.7" width="306.1" height="275.5" fill="none" stroke="#000" stroke-width="1.9"/>
<line x1="1179.7" y1="1498.61" x2="1194.2" y2="1498.61" stroke="#000" stroke-width="1.8" stroke-linecap="butt"/>
<text x="1137.75" y="1504.81" font-size="26" textLength="36.14" lengthAdjust="spacingAndGlyphs">1.5</text>
<line x1="1179.7" y1="1584.27" x2="1194.2" y2="1584.27" stroke="#000" stroke-width="1.8" stroke-linecap="butt"/>
<text x="1137.67" y="1590.47" font-size="26" textLength="36.14" lengthAdjust="spacingAndGlyphs">1.0</text>
<line x1="1179.7" y1="1669.93" x2="1194.2" y2="1669.93" stroke="#000" stroke-width="1.8" stroke-linecap="butt"/>
<text x="1137.75" y="1676.13" font-size="26" textLength="36.14" lengthAdjust="spacingAndGlyphs">0.5</text>
<line x1="1179.7" y1="1755.6" x2="1194.2" y2="1755.6" stroke="#000" stroke-width="1.8" stroke-linecap="butt"/>
<text x="1137.67" y="1761.8" font-size="26" textLength="36.14" lengthAdjust="spacingAndGlyphs">0.0</text>
<line x1="1231" y1="1765.2" x2="1231" y2="1780.7" stroke="#000" stroke-width="1.8" stroke-linecap="butt"/>
<text x="1216.55" y="1807" font-size="26" textLength="28.92" lengthAdjust="spacingAndGlyphs">30</text>
<line x1="1284.36" y1="1765.2" x2="1284.36" y2="1780.7" stroke="#000" stroke-width="1.8" stroke-linecap="butt"/>
<text x="1270.11" y="1807" font-size="26" textLength="28.92" lengthAdjust="spacingAndGlyphs">40</text>
<line x1="1337.72" y1="1765.2" x2="1337.72" y2="1780.7" stroke="#000" stroke-width="1.8" stroke-linecap="butt"/>
<text x="1323.25" y="1807" font-size="26" textLength="28.92" lengthAdjust="spacingAndGlyphs">50</text>
<line x1="1391.08" y1="1765.2" x2="1391.08" y2="1780.7" stroke="#000" stroke-width="1.8" stroke-linecap="butt"/>
<text x="1376.47" y="1807" font-size="26" textLength="28.92" lengthAdjust="spacingAndGlyphs">60</text>
<line x1="1444.44" y1="1765.2" x2="1444.44" y2="1780.7" stroke="#000" stroke-width="1.8" stroke-linecap="butt"/>
<text x="1429.82" y="1807" font-size="26" textLength="28.92" lengthAdjust="spacingAndGlyphs">70</text>
<line x1="1497.8" y1="1765.2" x2="1497.8" y2="1780.7" stroke="#000" stroke-width="1.8" stroke-linecap="butt"/>
<text x="1483.28" y="1807" font-size="26" textLength="28.92" lengthAdjust="spacingAndGlyphs">80</text>
<text x="1243.58" y="1478" font-size="31.5" textLength="206.65" lengthAdjust="spacingAndGlyphs">Scale-Location</text>
<text x="1267.53" y="1850.8" font-size="28.8" textLength="156.97" lengthAdjust="spacingAndGlyphs">Fitted values</text>
<text transform="translate(1125.8,1761) rotate(-90)" x="-1.26" y="0" font-size="28.8" textLength="282.97" lengthAdjust="spacingAndGlyphs">Standardized residuals</text>
<text x="1286.67" y="1507.2" font-size="19" textLength="31.26" lengthAdjust="spacingAndGlyphs">100</text>
<text x="1400.68" y="1509.4" font-size="19" textLength="20.45" lengthAdjust="spacingAndGlyphs">42</text>
<text x="1406.89" y="1513.9" font-size="19" textLength="22.11" lengthAdjust="spacingAndGlyphs">62</text>
<path d="M1096,1479.7 L1096,1761.5 L1125.2,1765.9" fill="none" stroke="#000" stroke-width="1.6"/>
<path d="M1125.2,1765.9 L1109.4,1772.9 L1111.4,1776.3" fill="none" stroke="#000" stroke-width="2.1"/>
<line x1="1666.8" y1="1628.1" x2="1971.4" y2="1628.1" stroke="#a8a8a8" stroke-width="1.8" stroke-dasharray="2.8,4.8" stroke-linecap="butt"/>
<line x1="1677.7" y1="1490.7" x2="1677.7" y2="1765.9" stroke="#a8a8a8" stroke-width="1.8" stroke-dasharray="2.8,4.8" stroke-linecap="butt"/>
<circle cx="1787.9" cy="1517.8" r="4.6" fill="none" stroke="#000" stroke-width="1.9"/>
<circle cx="1795.2" cy="1523.5" r="4.6" fill="none" stroke="#000" stroke-width="1.9"/>
<circle cx="1770.8" cy="1524.7" r="4.6" fill="none" stroke="#000" stroke-width="1.9"/>
<circle cx="1778.5" cy="1543" r="4.6" fill="none" stroke="#000" stroke-width="1.9"/>
<circle cx="1724.2" cy="1546.9" r="4.6" fill="none" stroke="#000" stroke-width="1.9"/>
<circle cx="1807.3" cy="1546.9" r="4.6" fill="none" stroke="#000" stroke-width="1.9"/>
<circle cx="1727.9" cy="1559.9" r="4.6" fill="none" stroke="#000" stroke-width="1.9"/>
<circle cx="1815.8" cy="1555.4" r="4.6" fill="none" stroke="#000" stroke-width="1.9"/>
<circle cx="1744.2" cy="1554.3" r="4.6" fill="none" stroke="#000" stroke-width="1.9"/>
<circle cx="1750.6" cy="1569.3" r="4.6" fill="none" stroke="#000" stroke-width="1.9"/>
<circle cx="1753.8" cy="1576.2" r="4.6" fill="none" stroke="#000" stroke-width="1.9"/>
<circle cx="1784.2" cy="1572.4" r="4.6" fill="none" stroke="#000" stroke-width="1.9"/>
<circle cx="1700.3" cy="1584.8" r="4.6" fill="none" stroke="#000" stroke-width="1.9"/>
<circle cx="1753.8" cy="1587.2" r="4.6" fill="none" stroke="#000" stroke-width="1.9"/>
<circle cx="1770.8" cy="1580.3" r="4.6" fill="none" stroke="#000" stroke-width="1.9"/>
<circle cx="1794.4" cy="1586.8" r="4.6" fill="none" stroke="#000" stroke-width="1.9"/>
<circle cx="1788.7" cy="1589.6" r="4.6" fill="none" stroke="#000" stroke-width="1.9"/>
<circle cx="1770" cy="1593.3" r="4.6" fill="none" stroke="#000" stroke-width="1.9"/>
<circle cx="1772.9" cy="1602.6" r="4.6" fill="none" stroke="#000" stroke-width="1.9"/>
<circle cx="1758.3" cy="1603.4" r="4.6" fill="none" stroke="#000" stroke-width="1.9"/>
<circle cx="1763.5" cy="1609.1" r="4.6" fill="none" stroke="#000" stroke-width="1.9"/>
<circle cx="1767.6" cy="1613.5" r="4.6" fill="none" stroke="#000" stroke-width="1.9"/>
<circle cx="1726.2" cy="1610.7" r="4.6" fill="none" stroke="#000" stroke-width="1.9"/>
<circle cx="1734.7" cy="1610.7" r="4.6" fill="none" stroke="#000" stroke-width="1.9"/>
<circle cx="1732.7" cy="1616.8" r="4.6" fill="none" stroke="#000" stroke-width="1.9"/>
<circle cx="1739.6" cy="1620.4" r="4.6" fill="none" stroke="#000" stroke-width="1.9"/>
<circle cx="1751" cy="1614.4" r="4.6" fill="none" stroke="#000" stroke-width="1.9"/>
<circle cx="1794" cy="1601.8" r="4.6" fill="none" stroke="#000" stroke-width="1.9"/>
<circle cx="1794.4" cy="1608.7" r="4.6" fill="none" stroke="#000" stroke-width="1.9"/>
<circle cx="1795.6" cy="1612.7" r="4.6" fill="none" stroke="#000" stroke-width="1.9"/>
<circle cx="1804.5" cy="1613.9" r="4.6" fill="none" stroke="#000" stroke-width="1.9"/>
<circle cx="1779.4" cy="1617.6" r="4.6" fill="none" stroke="#000" stroke-width="1.9"/>
<circle cx="1781.8" cy="1620" r="4.6" fill="none" stroke="#000" stroke-width="1.9"/>
<circle cx="1782.2" cy="1624.1" r="4.6" fill="none" stroke="#000" stroke-width="1.9"/>
<circle cx="1773.3" cy="1628.1" r="4.6" fill="none" stroke="#000" stroke-width="1.9"/>
<circle cx="1799.2" cy="1627.7" r="4.6" fill="none" stroke="#000" stroke-width="1.9"/>
<circle cx="1800" cy="1633.8" r="4.6" fill="none" stroke="#000" stroke-width="1.9"/>
<circle cx="1822.7" cy="1632.2" r="4.6" fill="none" stroke="#000" stroke-width="1.9"/>
<circle cx="1720.1" cy="1640.3" r="4.6" fill="none" stroke="#000" stroke-width="1.9"/>
<circle cx="1748.5" cy="1641.5" r="4.6" fill="none" stroke="#000" stroke-width="1.9"/>
<circle cx="1757.5" cy="1642.3" r="4.6" fill="none" stroke="#000" stroke-width="1.9"/>
<circle cx="1764.3" cy="1645.5" r="4.6" fill="none" stroke="#000" stroke-width="1.9"/>
<circle cx="1770" cy="1641.9" r="4.6" fill="none" stroke="#000" stroke-width="1.9"/>
<circle cx="1776.9" cy="1636.6" r="4.6" fill="none" stroke="#000" stroke-width="1.9"/>
<circle cx="1783.8" cy="1641.1" r="4.6" fill="none" stroke="#000" stroke-width="1.9"/>
<circle cx="1828" cy="1643.5" r="4.6" fill="none" stroke="#000" stroke-width="1.9"/>
<circle cx="1772.1" cy="1654.1" r="4.6" fill="none" stroke="#000" stroke-width="1.9"/>
<circle cx="1791.1" cy="1652" r="4.6" fill="none" stroke="#000" stroke-width="1.9"/>
<circle cx="1792.3" cy="1654.1" r="4.6" fill="none" stroke="#000" stroke-width="1.9"/>
<circle cx="1803.3" cy="1659.7" r="4.6" fill="none" stroke="#000" stroke-width="1.9"/>
<circle cx="1823.6" cy="1656.5" r="4.6" fill="none" stroke="#000" stroke-width="1.9"/>
<circle cx="1832.5" cy="1657.7" r="4.6" fill="none" stroke="#000" stroke-width="1.9"/>
<circle cx="1821.5" cy="1662.6" r="4.6" fill="none" stroke="#000" stroke-width="1.9"/>
<circle cx="1756.6" cy="1659.7" r="4.6" fill="none" stroke="#000" stroke-width="1.9"/>
<circle cx="1757.9" cy="1665" r="4.6" fill="none" stroke="#000" stroke-width="1.9"/>
<circle cx="1762.3" cy="1666.6" r="4.6" fill="none" stroke="#000" stroke-width="1.9"/>
<circle cx="1778.5" cy="1667" r="4.6" fill="none" stroke="#000" stroke-width="1.9"/>
<circle cx="1787.5" cy="1664.2" r="4.6" fill="none" stroke="#000" stroke-width="1.9"/>
<circle cx="1744.1" cy="1668.3" r="4.6" fill="none" stroke="#000" stroke-width="1.9"/>
<circle cx="1723.4" cy="1673.9" r="4.6" fill="none" stroke="#000" stroke-width="1.9"/>
<circle cx="1712.8" cy="1682" r="4.6" fill="none" stroke="#000" stroke-width="1.9"/>
<circle cx="1772.1" cy="1675.2" r="4.6" fill="none" stroke="#000" stroke-width="1.9"/>
<circle cx="1755.8" cy="1686.3" r="4.6" fill="none" stroke="#000" stroke-width="1.9"/>
<circle cx="1788.7" cy="1686.5" r="4.6" fill="none" stroke="#000" stroke-width="1.9"/>
<circle cx="1799.2" cy="1684.5" r="4.6" fill="none" stroke="#000" stroke-width="1.9"/>
<circle cx="1718.1" cy="1692.2" r="4.6" fill="none" stroke="#000" stroke-width="1.9"/>
<circle cx="1803.3" cy="1696.2" r="4.6" fill="none" stroke="#000" stroke-width="1.9"/>
<circle cx="1805.3" cy="1700.3" r="4.6" fill="none" stroke="#000" stroke-width="1.9"/>
<circle cx="1816.3" cy="1696.9" r="4.6" fill="none" stroke="#000" stroke-width="1.9"/>
<circle cx="1724.2" cy="1708.4" r="4.6" fill="none" stroke="#000" stroke-width="1.9"/>
<circle cx="1776.9" cy="1706.4" r="4.6" fill="none" stroke="#000" stroke-width="1.9"/>
<circle cx="1788.3" cy="1716.9" r="4.6" fill="none" stroke="#000" stroke-width="1.9"/>
<circle cx="1817.1" cy="1718.9" r="4.6" fill="none" stroke="#000" stroke-width="1.9"/>
<circle cx="1741.2" cy="1725" r="4.6" fill="none" stroke="#000" stroke-width="1.9"/>
<circle cx="1802.5" cy="1739.2" r="4.6" fill="none" stroke="#000" stroke-width="1.9"/>
<circle cx="1852.2" cy="1537.8" r="4.6" fill="none" stroke="#000" stroke-width="1.9"/>
<circle cx="1842.6" cy="1543.7" r="4.6" fill="none" stroke="#000" stroke-width="1.9"/>
<circle cx="1837.8" cy="1575.7" r="4.6" fill="none" stroke="#000" stroke-width="1.9"/>
<circle cx="1833.5" cy="1578.9" r="4.6" fill="none" stroke="#000" stroke-width="1.9"/>
<circle cx="1839.9" cy="1582.1" r="4.6" fill="none" stroke="#000" stroke-width="1.9"/>
<circle cx="1829.8" cy="1585.8" r="4.6" fill="none" stroke="#000" stroke-width="1.9"/>
<circle cx="1853.3" cy="1579.4" r="4.6" fill="none" stroke="#000" stroke-width="1.9"/>
<circle cx="1831.2" cy="1598.1" r="4.6" fill="none" stroke="#000" stroke-width="1.9"/>
<circle cx="1834.1" cy="1609.8" r="4.6" fill="none" stroke="#000" stroke-width="1.9"/>
<circle cx="1835.7" cy="1617.8" r="4.6" fill="none" stroke="#000" stroke-width="1.9"/>
<circle cx="1870.3" cy="1611.9" r="4.6" fill="none" stroke="#000" stroke-width="1.9"/>
<circle cx="1887.4" cy="1607.7" r="4.6" fill="none" stroke="#000" stroke-width="1.9"/>
<circle cx="1898" cy="1621.3" r="4.6" fill="none" stroke="#000" stroke-width="1.9"/>
<circle cx="1960.9" cy="1679.1" r="4.6" fill="none" stroke="#000" stroke-width="1.9"/>
<circle cx="1831.9" cy="1657.8" r="4.6" fill="none" stroke="#000" stroke-width="1.9"/>
<circle cx="1867.1" cy="1656.7" r="4.6" fill="none" stroke="#000" stroke-width="1.9"/>
<circle cx="1876.2" cy="1658.8" r="4.6" fill="none" stroke="#000" stroke-width="1.9"/>
<circle cx="1865.5" cy="1665.2" r="4.6" fill="none" stroke="#000" stroke-width="1.9"/>
<circle cx="1851.1" cy="1671.1" r="4.6" fill="none" stroke="#000" stroke-width="1.9"/>
<circle cx="1848.8" cy="1707.6" r="4.6" fill="none" stroke="#000" stroke-width="1.9"/>
<polyline fill="none" points="1700.3,1635.9 1719.4,1632.8 1741.4,1629.5 1751,1626.5 1759.1,1625.1 1774.5,1626.5 1781.9,1629.5 1789.2,1634.3 1797.3,1638.3 1804.6,1635 1814.9,1629.8 1821.5,1626.9 1828.2,1625.1 1835,1624.7 1848.5,1624.2 1860.2,1621.5 1876.2,1621.5 1884.7,1623.7 1897.5,1626.3 1910.3,1628.5 1931.6,1631.7 1942.3,1633.8 1961.5,1635.9" stroke="#ff0000" stroke-width="2.3" stroke-linejoin="round"/>
<rect x="1665.8" y="1489.7" width="306.6" height="277.2" fill="none" stroke="#000" stroke-width="1.9"/>
<line x1="1651.3" y1="1528.9" x2="1665.8" y2="1528.9" stroke="#000" stroke-width="1.8" stroke-linecap="butt"/>
<text x="1631.85" y="1535.1" font-size="26" textLength="14.46" lengthAdjust="spacingAndGlyphs">2</text>
<line x1="1651.3" y1="1578.5" x2="1665.8" y2="1578.5" stroke="#000" stroke-width="1.8" stroke-linecap="butt"/>
<text x="1631.81" y="1584.7" font-size="26" textLength="14.46" lengthAdjust="spacingAndGlyphs">1</text>
<line x1="1651.3" y1="1628.1" x2="1665.8" y2="1628.1" stroke="#000" stroke-width="1.8" stroke-linecap="butt"/>
<text x="1631.56" y="1634.3" font-size="26" textLength="14.46" lengthAdjust="spacingAndGlyphs">0</text>
<line x1="1651.3" y1="1677.7" x2="1665.8" y2="1677.7" stroke="#000" stroke-width="1.8" stroke-linecap="butt"/>
<text x="1623.15" y="1683.9" font-size="26" textLength="23.12" lengthAdjust="spacingAndGlyphs">-1</text>
<line x1="1651.3" y1="1727.3" x2="1665.8" y2="1727.3" stroke="#000" stroke-width="1.8" stroke-linecap="butt"/>
<text x="1623.19" y="1733.5" font-size="26" textLength="23.12" lengthAdjust="spacingAndGlyphs">-2</text>
<line x1="1677.7" y1="1766.9" x2="1677.7" y2="1782.4" stroke="#000" stroke-width="1.8" stroke-linecap="butt"/>
<text x="1652.4" y="1808.2" font-size="26" textLength="50.6" lengthAdjust="spacingAndGlyphs">0.00</text>
<line x1="1746.35" y1="1766.9" x2="1746.35" y2="1782.4" stroke="#000" stroke-width="1.8" stroke-linecap="butt"/>
<text x="1721.09" y="1808.2" font-size="26" textLength="50.6" lengthAdjust="spacingAndGlyphs">0.05</text>
<line x1="1815" y1="1766.9" x2="1815" y2="1782.4" stroke="#000" stroke-width="1.8" stroke-linecap="butt"/>
<text x="1789.7" y="1808.2" font-size="26" textLength="50.6" lengthAdjust="spacingAndGlyphs">0.10</text>
<line x1="1883.65" y1="1766.9" x2="1883.65" y2="1782.4" stroke="#000" stroke-width="1.8" stroke-linecap="butt"/>
<text x="1858.39" y="1808.2" font-size="26" textLength="50.6" lengthAdjust="spacingAndGlyphs">0.15</text>
<line x1="1952.3" y1="1766.9" x2="1952.3" y2="1782.4" stroke="#000" stroke-width="1.8" stroke-linecap="butt"/>
<text x="1927" y="1808.2" font-size="26" textLength="50.6" lengthAdjust="spacingAndGlyphs">0.20</text>
<text x="1665.84" y="1478.1" font-size="31.5" textLength="315.85" lengthAdjust="spacingAndGlyphs">Residuals vs Leverage</text>
<text x="1695.88" y="1850.9" font-size="28.8" textLength="255.82" lengthAdjust="spacingAndGlyphs">Theoretical quantiles</text>
<text transform="translate(1611,1766.9) rotate(-90)" x="-1.25" y="0" font-size="28.6" textLength="281.05" lengthAdjust="spacingAndGlyphs">Standardized residuals</text>
<text x="1758.17" y="1747.3" font-size="26" textLength="183.59" lengthAdjust="spacingAndGlyphs">Cook's distance</text>
<text x="1795.55" y="1526" font-size="19" textLength="21.73" lengthAdjust="spacingAndGlyphs">42</text>
<text x="1823.28" y="1545.2" font-size="19" textLength="21.78" lengthAdjust="spacingAndGlyphs">90</text>
<text x="1812.67" y="1752.4" font-size="19" textLength="31.26" lengthAdjust="spacingAndGlyphs">100</text>
<line x1="1688.9" y1="1736" x2="1727.9" y2="1736" stroke="#ff0000" stroke-width="2" stroke-dasharray="9,6" stroke-linecap="butt"/>
</svg>
</body></html>
